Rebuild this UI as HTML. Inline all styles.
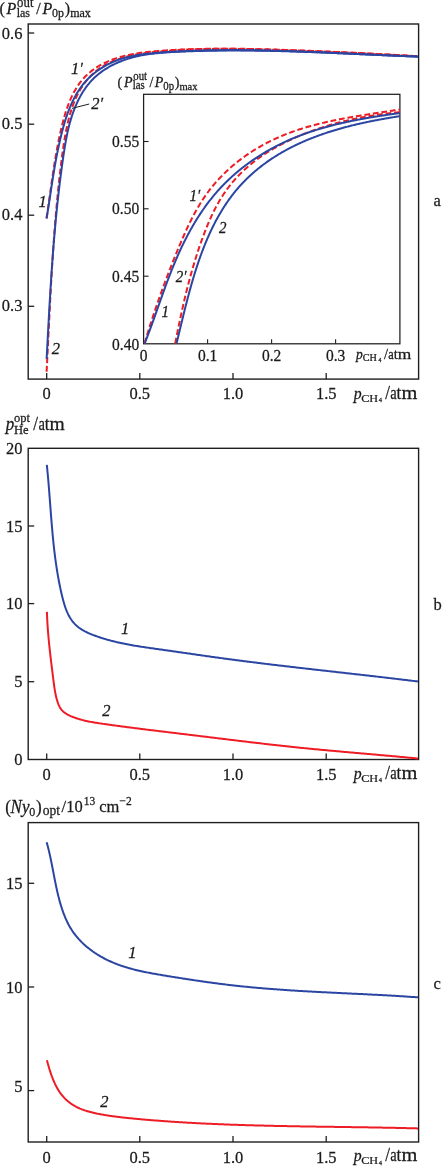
<!DOCTYPE html>
<html><head><meta charset="utf-8"><style>
html,body{margin:0;padding:0;background:#fff;width:442px;height:1166px;overflow:hidden}
body{position:relative}
</style></head><body>
<svg width="442" height="1166" viewBox="0 0 442 1166" style="position:absolute;left:0;top:0;will-change:transform">
<style>text{font-family:"Liberation Serif",serif;fill:#1a1a1a;stroke:#1a1a1a;stroke-width:0.25px}.i{font-style:italic}</style>
<rect x="28.2" y="24.0" width="390.40000000000003" height="355.1" fill="none" stroke="#1f1f1f" stroke-width="1.4"/>
<line x1="46.7" y1="379.1" x2="46.7" y2="373.1" stroke="#1f1f1f" stroke-width="1.3"/>
<text transform="translate(46.7,399.4) scale(1,1.06)" font-size="16.5" text-anchor="middle">0</text>
<line x1="139.8" y1="379.1" x2="139.8" y2="373.1" stroke="#1f1f1f" stroke-width="1.3"/>
<text transform="translate(139.8,399.4) scale(1,1.06)" font-size="16.5" text-anchor="middle">0.5</text>
<line x1="233.0" y1="379.1" x2="233.0" y2="373.1" stroke="#1f1f1f" stroke-width="1.3"/>
<text transform="translate(233.0,399.4) scale(1,1.06)" font-size="16.5" text-anchor="middle">1.0</text>
<line x1="326.2" y1="379.1" x2="326.2" y2="373.1" stroke="#1f1f1f" stroke-width="1.3"/>
<text transform="translate(326.2,399.4) scale(1,1.06)" font-size="16.5" text-anchor="middle">1.5</text>
<line x1="28.2" y1="33.0" x2="34.2" y2="33.0" stroke="#1f1f1f" stroke-width="1.3"/>
<text transform="translate(22.4,39.3) scale(1,1.06)" font-size="16.5" text-anchor="end">0.6</text>
<line x1="28.2" y1="124.2" x2="34.2" y2="124.2" stroke="#1f1f1f" stroke-width="1.3"/>
<text transform="translate(22.4,129.0) scale(1,1.06)" font-size="16.5" text-anchor="end">0.5</text>
<line x1="28.2" y1="215.2" x2="34.2" y2="215.2" stroke="#1f1f1f" stroke-width="1.3"/>
<text transform="translate(22.4,220.0) scale(1,1.06)" font-size="16.5" text-anchor="end">0.4</text>
<line x1="28.2" y1="306.3" x2="34.2" y2="306.3" stroke="#1f1f1f" stroke-width="1.3"/>
<text transform="translate(22.4,311.3) scale(1,1.06)" font-size="16.5" text-anchor="end">0.3</text>
<text transform="translate(-0.4,14.3) scale(1,1.06)" font-size="16">(</text>
<text transform="translate(6.6,14.3) scale(1,1.06)" font-size="16" class="i">P</text>
<text transform="translate(17.1,7.4) scale(1,1.06)" font-size="12.8">out</text>
<text transform="translate(16.7,17.3) scale(1,1.06)" font-size="12">las</text>
<text transform="translate(36.2,14.3) scale(1,1.06)" font-size="16">/</text>
<text transform="translate(42.4,14.3) scale(1,1.06)" font-size="16" class="i">P</text>
<text transform="translate(51.9,17.0) scale(1,1.06)" font-size="12">0p</text>
<text transform="translate(64.7,14.3) scale(1,1.06)" font-size="16">)</text>
<text transform="translate(70.2,16.9) scale(1,1.06)" font-size="12">max</text>
<text transform="translate(353.7,398.8) scale(1,1.06)" font-size="15.8" class="i">p</text>
<text transform="translate(361.20,402.00) scale(1,0.837)" font-size="12.2">CH</text>
<text transform="translate(378.7,402.3) scale(1,1.06)" font-size="6.6">4</text>
<text transform="translate(385.2,398.8) scale(1,1.06)" font-size="17">/</text>
<text transform="translate(390.30,398.80) scale(0.85,1.060)" font-size="17">a</text>
<text transform="translate(396.6,398.8) scale(1,1.06)" font-size="17">t</text>
<text transform="translate(401.40,398.80) scale(1.2,1.060)" font-size="17">m</text>
<text transform="translate(433.4,206.0) scale(1,1.06)" font-size="16.5">a</text>
<rect x="143.6" y="94.3" width="256.29999999999995" height="249.5" fill="none" stroke="#1f1f1f" stroke-width="1.25"/>
<line x1="143.6" y1="141.5" x2="148.6" y2="141.5" stroke="#1f1f1f" stroke-width="1.1"/>
<text transform="translate(139.2,146.8) scale(1,1.06)" font-size="15.5" text-anchor="end">0.55</text>
<line x1="143.6" y1="208.8" x2="148.6" y2="208.8" stroke="#1f1f1f" stroke-width="1.1"/>
<text transform="translate(139.2,214.10000000000002) scale(1,1.06)" font-size="15.5" text-anchor="end">0.50</text>
<line x1="143.6" y1="276.2" x2="148.6" y2="276.2" stroke="#1f1f1f" stroke-width="1.1"/>
<text transform="translate(139.2,281.5) scale(1,1.06)" font-size="15.5" text-anchor="end">0.45</text>
<text transform="translate(139.2,350.3) scale(1,1.06)" font-size="15.5" text-anchor="end">0.40</text>
<text transform="translate(143.6,360.6) scale(1,1.06)" font-size="15.5" text-anchor="middle">0</text>
<line x1="207.6" y1="343.8" x2="207.6" y2="339.3" stroke="#1f1f1f" stroke-width="1.1"/>
<text transform="translate(207.6,360.6) scale(1,1.06)" font-size="15.5" text-anchor="middle">0.1</text>
<line x1="271.6" y1="343.8" x2="271.6" y2="339.3" stroke="#1f1f1f" stroke-width="1.1"/>
<text transform="translate(271.6,360.6) scale(1,1.06)" font-size="15.5" text-anchor="middle">0.2</text>
<line x1="335.6" y1="343.8" x2="335.6" y2="339.3" stroke="#1f1f1f" stroke-width="1.1"/>
<text transform="translate(335.6,360.6) scale(1,1.06)" font-size="15.5" text-anchor="middle">0.3</text>
<text transform="translate(356.0,359.4) scale(1,1.06)" font-size="13.5" class="i">p</text>
<text transform="translate(362.80,361.30) scale(1,0.975)" font-size="10.2">CH</text>
<text transform="translate(378.5,362.0) scale(1,1.06)" font-size="5.6">4</text>
<text transform="translate(384.0,359.3) scale(1,1.06)" font-size="14.5">/</text>
<text transform="translate(388.35,359.30) scale(0.85,1.060)" font-size="14.5">a</text>
<text transform="translate(393.72,359.3) scale(1,1.06)" font-size="14.5">t</text>
<text transform="translate(397.82,359.30) scale(1.2,1.060)" font-size="14.5">m</text>
<text transform="translate(117.4,86.8) scale(1,1.06)" font-size="14">(</text>
<text transform="translate(124.0,86.8) scale(1,1.06)" font-size="14" class="i">P</text>
<text transform="translate(133.3,80.3) scale(1,1.06)" font-size="10.8">out</text>
<text transform="translate(132.7,89.4) scale(1,1.06)" font-size="10.8">las</text>
<text transform="translate(149.5,86.8) scale(1,1.06)" font-size="14">/</text>
<text transform="translate(154.7,86.8) scale(1,1.06)" font-size="14" class="i">P</text>
<text transform="translate(163.3,89.5) scale(1,1.06)" font-size="10.8">0p</text>
<text transform="translate(174.7,86.8) scale(1,1.06)" font-size="14">)</text>
<text transform="translate(179.4,89.7) scale(1,1.06)" font-size="10.5">max</text>
<rect x="28.2" y="448.3" width="390.40000000000003" height="311.2" fill="none" stroke="#1f1f1f" stroke-width="1.4"/>
<line x1="46.7" y1="759.5" x2="46.7" y2="753.5" stroke="#1f1f1f" stroke-width="1.3"/>
<text transform="translate(46.7,780.3) scale(1,1.06)" font-size="16.5" text-anchor="middle">0</text>
<line x1="139.8" y1="759.5" x2="139.8" y2="753.5" stroke="#1f1f1f" stroke-width="1.3"/>
<text transform="translate(139.8,780.3) scale(1,1.06)" font-size="16.5" text-anchor="middle">0.5</text>
<line x1="233.0" y1="759.5" x2="233.0" y2="753.5" stroke="#1f1f1f" stroke-width="1.3"/>
<text transform="translate(233.0,780.3) scale(1,1.06)" font-size="16.5" text-anchor="middle">1.0</text>
<line x1="326.2" y1="759.5" x2="326.2" y2="753.5" stroke="#1f1f1f" stroke-width="1.3"/>
<text transform="translate(326.2,780.3) scale(1,1.06)" font-size="16.5" text-anchor="middle">1.5</text>
<text transform="translate(22.4,453.8) scale(1,1.06)" font-size="16.5" text-anchor="end">20</text>
<line x1="28.2" y1="526.0" x2="34.2" y2="526.0" stroke="#1f1f1f" stroke-width="1.3"/>
<text transform="translate(22.4,531.5) scale(1,1.06)" font-size="16.5" text-anchor="end">15</text>
<line x1="28.2" y1="603.6" x2="34.2" y2="603.6" stroke="#1f1f1f" stroke-width="1.3"/>
<text transform="translate(22.4,609.0) scale(1,1.06)" font-size="16.5" text-anchor="end">10</text>
<line x1="28.2" y1="681.7" x2="34.2" y2="681.7" stroke="#1f1f1f" stroke-width="1.3"/>
<text transform="translate(22.4,687.0) scale(1,1.06)" font-size="16.5" text-anchor="end">5</text>
<text transform="translate(22.4,765.3) scale(1,1.06)" font-size="16.5" text-anchor="end">0</text>
<text transform="translate(353.7,778.8) scale(1,1.06)" font-size="15.8" class="i">p</text>
<text transform="translate(361.20,782.00) scale(1,0.837)" font-size="12.2">CH</text>
<text transform="translate(378.7,782.3) scale(1,1.06)" font-size="6.6">4</text>
<text transform="translate(385.2,778.8) scale(1,1.06)" font-size="17">/</text>
<text transform="translate(390.30,778.80) scale(0.85,1.060)" font-size="17">a</text>
<text transform="translate(396.6,778.8) scale(1,1.06)" font-size="17">t</text>
<text transform="translate(401.40,778.80) scale(1.2,1.060)" font-size="17">m</text>
<text transform="translate(433.4,609.5) scale(1,1.06)" font-size="16.5">b</text>
<text transform="translate(5.7,429.5) scale(1,1.06)" font-size="17" class="i">p</text>
<text transform="translate(14.0,421.6) scale(1,1.06)" font-size="12.5">opt</text>
<text transform="translate(14.0,433.6) scale(1,1.06)" font-size="12.6">He</text>
<text transform="translate(33.3,429.6) scale(1,1.06)" font-size="17">/</text>
<text transform="translate(38.40,429.60) scale(0.85,1.060)" font-size="17">a</text>
<text transform="translate(44.7,429.6) scale(1,1.06)" font-size="17">t</text>
<text transform="translate(49.50,429.60) scale(1.15,1.060)" font-size="17">m</text>
<rect x="28.2" y="822.6" width="390.40000000000003" height="319.4" fill="none" stroke="#1f1f1f" stroke-width="1.4"/>
<line x1="46.7" y1="1142.0" x2="46.7" y2="1136.0" stroke="#1f1f1f" stroke-width="1.3"/>
<text transform="translate(46.7,1162.6) scale(1,1.06)" font-size="16.5" text-anchor="middle">0</text>
<line x1="139.8" y1="1142.0" x2="139.8" y2="1136.0" stroke="#1f1f1f" stroke-width="1.3"/>
<text transform="translate(139.8,1162.6) scale(1,1.06)" font-size="16.5" text-anchor="middle">0.5</text>
<line x1="233.0" y1="1142.0" x2="233.0" y2="1136.0" stroke="#1f1f1f" stroke-width="1.3"/>
<text transform="translate(233.0,1162.6) scale(1,1.06)" font-size="16.5" text-anchor="middle">1.0</text>
<line x1="326.2" y1="1142.0" x2="326.2" y2="1136.0" stroke="#1f1f1f" stroke-width="1.3"/>
<text transform="translate(326.2,1162.6) scale(1,1.06)" font-size="16.5" text-anchor="middle">1.5</text>
<line x1="28.2" y1="883.3" x2="34.2" y2="883.3" stroke="#1f1f1f" stroke-width="1.3"/>
<text transform="translate(22.4,889.4) scale(1,1.06)" font-size="16.5" text-anchor="end">15</text>
<line x1="28.2" y1="987.0" x2="34.2" y2="987.0" stroke="#1f1f1f" stroke-width="1.3"/>
<text transform="translate(22.4,992.6) scale(1,1.06)" font-size="16.5" text-anchor="end">10</text>
<line x1="28.2" y1="1090.6" x2="34.2" y2="1090.6" stroke="#1f1f1f" stroke-width="1.3"/>
<text transform="translate(22.4,1091.6) scale(1,1.06)" font-size="16.5" text-anchor="end">5</text>
<text transform="translate(353.7,1161.2) scale(1,1.06)" font-size="15.8" class="i">p</text>
<text transform="translate(361.20,1164.40) scale(1,0.837)" font-size="12.2">CH</text>
<text transform="translate(378.7,1164.7) scale(1,1.06)" font-size="6.6">4</text>
<text transform="translate(385.2,1161.2) scale(1,1.06)" font-size="17">/</text>
<text transform="translate(390.30,1161.20) scale(0.85,1.060)" font-size="17">a</text>
<text transform="translate(396.6,1161.2) scale(1,1.06)" font-size="17">t</text>
<text transform="translate(401.40,1161.20) scale(1.2,1.060)" font-size="17">m</text>
<text transform="translate(433.4,988.8) scale(1,1.06)" font-size="16.5">c</text>
<text transform="translate(5.2,813.0) scale(1,1.06)" font-size="17">(</text>
<text transform="translate(10.6,813.0) scale(1,1.06)" font-size="17" class="i">N</text>
<text transform="translate(22.0,813.0) scale(1,1.06)" font-size="17" class="i">y</text>
<text transform="translate(29.2,815.6) scale(1,1.06)" font-size="12">0</text>
<text transform="translate(35.9,813.0) scale(1,1.06)" font-size="17">)</text>
<text transform="translate(42.7,814.6) scale(1,1.06)" font-size="13.5">opt</text>
<text transform="translate(61.6,812.2) scale(1,1.06)" font-size="16.5">/10</text>
<text transform="translate(83.8,805.2) scale(1,1.06)" font-size="11.5">13</text>
<text transform="translate(99.3,812.3) scale(1,1.06)" font-size="16.5">cm</text>
<text transform="translate(119.5,805.2) scale(1,1.06)" font-size="11.5">−2</text>
<path d="M46.81,464.78 L46.95,466.07 L47.08,467.36 L47.21,468.65 L47.33,469.94 L47.46,471.23 L47.58,472.52 L47.70,473.80 L47.82,475.09 L47.94,476.38 L48.05,477.66 L48.17,478.95 L48.28,480.24 L48.39,481.52 L48.50,482.81 L48.60,484.09 L48.71,485.38 L48.82,486.66 L48.92,487.95 L49.02,489.23 L49.12,490.51 L49.23,491.80 L49.33,493.08 L49.42,494.36 L49.52,495.65 L49.62,496.93 L49.72,498.21 L49.82,499.49 L49.91,500.78 L50.01,502.06 L50.11,503.34 L50.20,504.62 L50.30,505.90 L50.40,507.18 L50.49,508.46 L50.59,509.74 L50.69,511.02 L50.79,512.30 L50.89,513.58 L50.98,514.86 L51.08,516.14 L51.18,517.42 L51.29,518.70 L51.39,519.98 L51.49,521.26 L51.59,522.54 L51.70,523.82 L51.81,525.10 L51.91,526.37 L52.02,527.65 L52.13,528.93 L52.25,530.21 L52.36,531.48 L52.47,532.76 L52.59,534.04 L52.71,535.32 L52.83,536.59 L52.95,537.87 L53.08,539.15 L53.21,540.42 L53.34,541.70 L53.47,542.98 L53.60,544.25 L53.74,545.53 L53.88,546.80 L54.02,548.08 L54.17,549.36 L54.31,550.63 L54.46,551.91 L54.62,553.18 L54.77,554.46 L54.93,555.73 L55.10,557.01 L55.26,558.28 L55.43,559.56 L55.61,560.83 L55.78,562.11 L55.96,563.38 L56.15,564.66 L56.34,565.93 L56.53,567.21 L56.72,568.48 L56.92,569.75 L57.13,571.03 L57.34,572.30 L57.55,573.58 L57.77,574.85 L57.99,576.13 L58.21,577.40 L58.44,578.67 L58.68,579.95 L58.92,581.22 L59.16,582.50 L59.41,583.77 L59.67,585.04 L59.93,586.32 L60.19,587.59 L60.46,588.87 L60.74,590.14 L61.02,591.41 L61.30,592.69 L61.60,593.96 L61.89,595.23 L62.20,596.51 L62.51,597.78 L62.83,599.05 L63.16,600.31 L63.50,601.57 L63.86,602.82 L64.23,604.07 L64.61,605.30 L65.01,606.53 L65.43,607.74 L65.87,608.95 L66.33,610.13 L66.80,611.31 L67.31,612.47 L67.83,613.61 L68.38,614.73 L68.96,615.84 L69.57,616.92 L70.20,617.99 L70.86,619.03 L71.56,620.04 L72.29,621.04 L73.05,622.00 L73.85,622.94 L74.68,623.85 L75.55,624.73 L76.46,625.58 L77.41,626.40 L78.40,627.19 L79.41,627.95 L80.46,628.68 L81.53,629.38 L82.63,630.06 L83.76,630.70 L84.90,631.33 L86.07,631.92 L87.25,632.50 L88.44,633.05 L89.65,633.58 L90.87,634.09 L92.10,634.59 L93.34,635.07 L94.58,635.54 L95.82,635.99 L97.07,636.43 L98.31,636.86 L99.56,637.28 L100.81,637.69 L102.05,638.09 L103.30,638.48 L104.55,638.86 L105.80,639.24 L107.05,639.60 L108.30,639.95 L109.55,640.29 L110.80,640.63 L112.06,640.95 L113.31,641.27 L114.56,641.58 L115.82,641.89 L117.07,642.18 L118.33,642.47 L119.58,642.75 L120.84,643.03 L122.10,643.29 L123.35,643.55 L124.61,643.81 L125.87,644.06 L127.13,644.30 L128.39,644.54 L129.65,644.78 L130.91,645.00 L132.17,645.23 L133.43,645.45 L134.69,645.66 L135.96,645.87 L137.22,646.08 L138.48,646.28 L139.75,646.48 L141.01,646.68 L142.27,646.88 L143.54,647.07 L144.80,647.26 L146.07,647.44 L147.34,647.63 L148.60,647.81 L149.87,647.99 L151.14,648.17 L152.40,648.35 L153.67,648.53 L154.94,648.71 L156.21,648.89 L157.48,649.07 L158.75,649.24 L160.02,649.42 L161.29,649.60 L162.56,649.78 L163.83,649.96 L165.10,650.14 L166.37,650.32 L167.64,650.50 L168.91,650.68 L170.18,650.86 L171.46,651.04 L172.73,651.23 L174.00,651.41 L175.28,651.59 L176.55,651.77 L177.82,651.96 L179.10,652.14 L180.37,652.33 L181.64,652.51 L182.92,652.69 L184.19,652.88 L185.47,653.06 L186.74,653.24 L188.02,653.43 L189.29,653.61 L190.57,653.80 L191.84,653.98 L193.12,654.16 L194.39,654.35 L195.67,654.53 L196.95,654.71 L198.22,654.90 L199.50,655.08 L200.78,655.26 L202.05,655.44 L203.33,655.63 L204.61,655.81 L205.88,655.99 L207.16,656.17 L208.44,656.35 L209.71,656.53 L210.99,656.71 L212.27,656.89 L213.54,657.07 L214.82,657.24 L216.10,657.42 L217.38,657.60 L218.65,657.77 L219.93,657.95 L221.21,658.12 L222.48,658.30 L223.76,658.47 L225.04,658.64 L226.32,658.82 L227.59,658.99 L228.87,659.16 L230.15,659.33 L231.43,659.50 L232.70,659.67 L233.98,659.84 L235.26,660.00 L236.53,660.17 L237.81,660.34 L239.09,660.50 L240.37,660.67 L241.64,660.83 L242.92,661.00 L244.20,661.16 L245.47,661.33 L246.75,661.49 L248.03,661.65 L249.31,661.81 L250.58,661.97 L251.86,662.13 L253.14,662.29 L254.42,662.45 L255.69,662.61 L256.97,662.77 L258.25,662.93 L259.52,663.09 L260.80,663.24 L262.08,663.40 L263.36,663.56 L264.63,663.71 L265.91,663.87 L267.19,664.02 L268.47,664.18 L269.74,664.33 L271.02,664.49 L272.30,664.64 L273.57,664.79 L274.85,664.95 L276.13,665.10 L277.41,665.25 L278.68,665.40 L279.96,665.56 L281.24,665.71 L282.52,665.86 L283.79,666.01 L285.07,666.16 L286.35,666.31 L287.63,666.46 L288.90,666.61 L290.18,666.76 L291.46,666.90 L292.74,667.05 L294.01,667.20 L295.29,667.35 L296.57,667.50 L297.85,667.64 L299.12,667.79 L300.40,667.94 L301.68,668.09 L302.96,668.23 L304.23,668.38 L305.51,668.52 L306.79,668.67 L308.07,668.82 L309.34,668.96 L310.62,669.11 L311.90,669.25 L313.18,669.40 L314.45,669.54 L315.73,669.69 L317.01,669.83 L318.29,669.98 L319.56,670.12 L320.84,670.27 L322.12,670.41 L323.40,670.56 L324.68,670.70 L325.95,670.84 L327.23,670.99 L328.51,671.13 L329.79,671.28 L331.06,671.42 L332.34,671.56 L333.62,671.71 L334.90,671.85 L336.18,672.00 L337.45,672.14 L338.73,672.28 L340.01,672.43 L341.29,672.57 L342.57,672.71 L343.84,672.86 L345.12,673.00 L346.40,673.15 L347.68,673.29 L348.96,673.43 L350.23,673.58 L351.51,673.72 L352.79,673.87 L354.07,674.01 L355.35,674.16 L356.62,674.30 L357.90,674.45 L359.18,674.59 L360.46,674.74 L361.74,674.88 L363.02,675.03 L364.29,675.17 L365.57,675.32 L366.85,675.46 L368.13,675.61 L369.41,675.75 L370.69,675.90 L371.96,676.05 L373.24,676.19 L374.52,676.34 L375.80,676.49 L377.08,676.63 L378.36,676.78 L379.64,676.93 L380.91,677.08 L382.19,677.23 L383.47,677.37 L384.75,677.52 L386.03,677.67 L387.31,677.82 L388.59,677.97 L389.87,678.12 L391.14,678.27 L392.42,678.42 L393.70,678.57 L394.98,678.72 L396.26,678.88 L397.54,679.03 L398.82,679.18 L400.10,679.33 L401.37,679.48 L402.65,679.64 L403.93,679.79 L405.21,679.95 L406.49,680.10 L407.77,680.25 L409.05,680.41 L410.33,680.57 L411.61,680.72 L412.89,680.88 L414.17,681.03 L415.45,681.19 L416.72,681.35 L418.00,681.51" fill="none" stroke="#2b45a3" stroke-width="2"/>
<path d="M46.93,611.89 L46.96,613.05 L47.00,614.21 L47.05,615.37 L47.10,616.53 L47.15,617.69 L47.20,618.85 L47.26,620.01 L47.32,621.17 L47.39,622.32 L47.45,623.48 L47.52,624.63 L47.60,625.79 L47.68,626.94 L47.76,628.09 L47.84,629.25 L47.93,630.40 L48.02,631.55 L48.11,632.70 L48.20,633.85 L48.30,635.00 L48.40,636.15 L48.50,637.30 L48.61,638.45 L48.71,639.60 L48.82,640.74 L48.93,641.89 L49.05,643.04 L49.16,644.19 L49.28,645.33 L49.40,646.48 L49.52,647.63 L49.64,648.77 L49.77,649.92 L49.89,651.07 L50.02,652.21 L50.15,653.36 L50.28,654.50 L50.41,655.65 L50.55,656.80 L50.68,657.94 L50.82,659.09 L50.95,660.23 L51.09,661.38 L51.23,662.53 L51.37,663.67 L51.51,664.82 L51.65,665.97 L51.79,667.12 L51.93,668.26 L52.08,669.41 L52.22,670.56 L52.36,671.71 L52.51,672.86 L52.65,674.01 L52.79,675.15 L52.94,676.30 L53.08,677.46 L53.23,678.61 L53.37,679.76 L53.52,680.91 L53.66,682.06 L53.81,683.21 L53.96,684.37 L54.11,685.52 L54.27,686.67 L54.44,687.81 L54.61,688.96 L54.80,690.10 L54.99,691.25 L55.20,692.38 L55.42,693.52 L55.65,694.65 L55.90,695.78 L56.17,696.90 L56.45,698.02 L56.75,699.13 L57.08,700.24 L57.42,701.34 L57.79,702.44 L58.18,703.53 L58.60,704.60 L59.06,705.66 L59.55,706.69 L60.10,707.69 L60.71,708.65 L61.37,709.56 L62.11,710.42 L62.90,711.22 L63.76,711.98 L64.66,712.68 L65.60,713.34 L66.58,713.96 L67.59,714.55 L68.62,715.09 L69.67,715.61 L70.73,716.09 L71.81,716.55 L72.90,716.98 L74.00,717.40 L75.10,717.80 L76.20,718.18 L77.30,718.54 L78.41,718.89 L79.52,719.22 L80.63,719.54 L81.75,719.85 L82.87,720.14 L83.99,720.42 L85.11,720.69 L86.24,720.94 L87.37,721.19 L88.50,721.42 L89.63,721.65 L90.76,721.87 L91.90,722.08 L93.03,722.28 L94.17,722.47 L95.31,722.66 L96.45,722.85 L97.59,723.02 L98.73,723.20 L99.87,723.37 L101.01,723.54 L102.16,723.70 L103.30,723.87 L104.44,724.03 L105.59,724.19 L106.73,724.35 L107.87,724.52 L109.02,724.68 L110.16,724.83 L111.31,724.99 L112.45,725.15 L113.59,725.31 L114.74,725.46 L115.88,725.62 L117.03,725.78 L118.17,725.93 L119.32,726.08 L120.46,726.24 L121.61,726.39 L122.75,726.54 L123.90,726.69 L125.04,726.84 L126.19,726.99 L127.33,727.14 L128.48,727.29 L129.62,727.44 L130.77,727.59 L131.92,727.74 L133.06,727.88 L134.21,728.03 L135.35,728.18 L136.50,728.32 L137.65,728.47 L138.79,728.61 L139.94,728.76 L141.08,728.90 L142.23,729.04 L143.38,729.19 L144.52,729.33 L145.67,729.47 L146.82,729.62 L147.96,729.76 L149.11,729.90 L150.26,730.04 L151.40,730.18 L152.55,730.32 L153.70,730.46 L154.85,730.60 L155.99,730.74 L157.14,730.88 L158.29,731.02 L159.43,731.16 L160.58,731.30 L161.73,731.44 L162.88,731.58 L164.02,731.72 L165.17,731.86 L166.32,731.99 L167.47,732.13 L168.61,732.27 L169.76,732.41 L170.91,732.55 L172.06,732.69 L173.20,732.82 L174.35,732.96 L175.50,733.10 L176.65,733.24 L177.79,733.38 L178.94,733.51 L180.09,733.65 L181.24,733.79 L182.38,733.93 L183.53,734.07 L184.68,734.20 L185.83,734.34 L186.97,734.48 L188.12,734.62 L189.27,734.76 L190.42,734.90 L191.56,735.04 L192.71,735.18 L193.86,735.31 L195.00,735.45 L196.15,735.59 L197.30,735.73 L198.45,735.87 L199.59,736.01 L200.74,736.15 L201.89,736.29 L203.04,736.43 L204.18,736.57 L205.33,736.71 L206.48,736.85 L207.63,736.99 L208.77,737.13 L209.92,737.28 L211.07,737.42 L212.21,737.56 L213.36,737.70 L214.51,737.84 L215.66,737.98 L216.80,738.12 L217.95,738.26 L219.10,738.40 L220.25,738.54 L221.39,738.68 L222.54,738.82 L223.69,738.96 L224.83,739.10 L225.98,739.24 L227.13,739.38 L228.28,739.52 L229.42,739.66 L230.57,739.80 L231.72,739.94 L232.87,740.08 L234.01,740.22 L235.16,740.35 L236.31,740.49 L237.46,740.63 L238.60,740.77 L239.75,740.91 L240.90,741.05 L242.05,741.19 L243.19,741.32 L244.34,741.46 L245.49,741.60 L246.64,741.73 L247.78,741.87 L248.93,742.01 L250.08,742.14 L251.23,742.28 L252.38,742.42 L253.52,742.55 L254.67,742.69 L255.82,742.82 L256.97,742.96 L258.11,743.09 L259.26,743.22 L260.41,743.36 L261.56,743.49 L262.71,743.62 L263.86,743.76 L265.00,743.89 L266.15,744.02 L267.30,744.15 L268.45,744.28 L269.60,744.42 L270.74,744.55 L271.89,744.68 L273.04,744.81 L274.19,744.93 L275.34,745.06 L276.49,745.19 L277.64,745.32 L278.78,745.45 L279.93,745.57 L281.08,745.70 L282.23,745.83 L283.38,745.95 L284.53,746.08 L285.68,746.20 L286.83,746.33 L287.97,746.45 L289.12,746.57 L290.27,746.69 L291.42,746.82 L292.57,746.94 L293.72,747.06 L294.87,747.18 L296.02,747.30 L297.17,747.42 L298.32,747.54 L299.47,747.65 L300.62,747.77 L301.77,747.89 L302.92,748.00 L304.07,748.12 L305.22,748.23 L306.37,748.35 L307.52,748.46 L308.67,748.58 L309.82,748.69 L310.97,748.80 L312.12,748.91 L313.27,749.02 L314.42,749.14 L315.57,749.25 L316.72,749.36 L317.87,749.47 L319.02,749.57 L320.17,749.68 L321.32,749.79 L322.47,749.90 L323.62,750.01 L324.77,750.11 L325.92,750.22 L327.08,750.33 L328.23,750.43 L329.38,750.54 L330.53,750.64 L331.68,750.75 L332.83,750.85 L333.98,750.96 L335.13,751.06 L336.28,751.17 L337.43,751.27 L338.59,751.37 L339.74,751.48 L340.89,751.58 L342.04,751.68 L343.19,751.78 L344.34,751.89 L345.49,751.99 L346.64,752.09 L347.79,752.19 L348.95,752.29 L350.10,752.39 L351.25,752.50 L352.40,752.60 L353.55,752.70 L354.70,752.80 L355.85,752.90 L357.01,753.00 L358.16,753.10 L359.31,753.20 L360.46,753.30 L361.61,753.41 L362.76,753.51 L363.91,753.61 L365.06,753.71 L366.22,753.81 L367.37,753.91 L368.52,754.01 L369.67,754.11 L370.82,754.21 L371.97,754.31 L373.12,754.41 L374.28,754.52 L375.43,754.62 L376.58,754.72 L377.73,754.82 L378.88,754.92 L380.03,755.02 L381.18,755.13 L382.33,755.23 L383.49,755.33 L384.64,755.43 L385.79,755.54 L386.94,755.64 L388.09,755.74 L389.24,755.85 L390.39,755.95 L391.54,756.05 L392.69,756.16 L393.84,756.26 L395.00,756.37 L396.15,756.47 L397.30,756.58 L398.45,756.68 L399.60,756.79 L400.75,756.90 L401.90,757.00 L403.05,757.11 L404.20,757.22 L405.35,757.33 L406.50,757.43 L407.65,757.54 L408.80,757.65 L409.95,757.76 L411.10,757.87 L412.25,757.98 L413.40,758.09 L414.55,758.21 L415.70,758.32 L416.85,758.43 L418.00,758.54" fill="none" stroke="#ee1c24" stroke-width="2"/>
<path d="M46.67,842.29 L46.98,843.36 L47.28,844.44 L47.57,845.53 L47.85,846.61 L48.13,847.70 L48.40,848.79 L48.67,849.88 L48.93,850.97 L49.19,852.07 L49.45,853.17 L49.69,854.27 L49.94,855.37 L50.18,856.47 L50.42,857.58 L50.65,858.68 L50.88,859.79 L51.11,860.90 L51.34,862.01 L51.56,863.12 L51.78,864.23 L52.00,865.35 L52.22,866.46 L52.44,867.58 L52.65,868.69 L52.87,869.81 L53.08,870.93 L53.30,872.05 L53.51,873.17 L53.73,874.28 L53.94,875.40 L54.16,876.52 L54.37,877.64 L54.59,878.76 L54.81,879.88 L55.04,881.00 L55.26,882.12 L55.49,883.24 L55.72,884.36 L55.95,885.48 L56.18,886.60 L56.42,887.71 L56.67,888.83 L56.91,889.95 L57.16,891.06 L57.42,892.18 L57.68,893.29 L57.94,894.40 L58.21,895.52 L58.49,896.63 L58.77,897.73 L59.06,898.84 L59.35,899.95 L59.65,901.05 L59.96,902.16 L60.27,903.26 L60.60,904.36 L60.93,905.45 L61.26,906.55 L61.61,907.64 L61.96,908.73 L62.32,909.82 L62.70,910.90 L63.08,911.98 L63.47,913.05 L63.87,914.12 L64.28,915.18 L64.70,916.24 L65.14,917.29 L65.58,918.34 L66.04,919.38 L66.51,920.41 L66.99,921.44 L67.48,922.45 L67.99,923.46 L68.51,924.46 L69.04,925.46 L69.59,926.44 L70.15,927.41 L70.73,928.38 L71.32,929.33 L71.93,930.27 L72.55,931.21 L73.18,932.13 L73.84,933.04 L74.50,933.94 L75.18,934.83 L75.87,935.71 L76.58,936.58 L77.30,937.43 L78.04,938.28 L78.78,939.12 L79.54,939.94 L80.31,940.76 L81.10,941.56 L81.89,942.36 L82.70,943.14 L83.52,943.91 L84.35,944.68 L85.19,945.43 L86.04,946.17 L86.90,946.90 L87.77,947.62 L88.66,948.33 L89.55,949.03 L90.45,949.72 L91.36,950.39 L92.28,951.06 L93.20,951.72 L94.14,952.36 L95.08,953.00 L96.04,953.62 L96.99,954.24 L97.96,954.84 L98.94,955.44 L99.92,956.02 L100.90,956.59 L101.90,957.15 L102.90,957.70 L103.90,958.25 L104.91,958.78 L105.93,959.30 L106.95,959.81 L107.98,960.30 L109.01,960.79 L110.04,961.27 L111.08,961.74 L112.12,962.20 L113.17,962.64 L114.22,963.08 L115.27,963.51 L116.33,963.92 L117.39,964.33 L118.45,964.72 L119.51,965.11 L120.58,965.49 L121.65,965.86 L122.73,966.22 L123.80,966.57 L124.88,966.92 L125.96,967.25 L127.05,967.58 L128.13,967.90 L129.22,968.22 L130.31,968.52 L131.41,968.82 L132.50,969.11 L133.60,969.40 L134.70,969.68 L135.80,969.95 L136.90,970.22 L138.00,970.48 L139.11,970.73 L140.22,970.98 L141.33,971.23 L142.44,971.47 L143.55,971.71 L144.66,971.94 L145.78,972.16 L146.89,972.39 L148.01,972.61 L149.13,972.82 L150.24,973.03 L151.36,973.24 L152.48,973.45 L153.60,973.65 L154.72,973.85 L155.85,974.05 L156.97,974.25 L158.09,974.44 L159.21,974.63 L160.34,974.83 L161.46,975.02 L162.58,975.20 L163.71,975.39 L164.83,975.58 L165.95,975.77 L167.08,975.95 L168.20,976.14 L169.32,976.32 L170.44,976.51 L171.57,976.69 L172.69,976.87 L173.81,977.05 L174.94,977.23 L176.06,977.42 L177.18,977.60 L178.30,977.77 L179.43,977.95 L180.55,978.13 L181.67,978.31 L182.79,978.48 L183.92,978.66 L185.04,978.83 L186.16,979.01 L187.28,979.18 L188.41,979.35 L189.53,979.52 L190.65,979.69 L191.77,979.86 L192.90,980.03 L194.02,980.20 L195.14,980.37 L196.26,980.53 L197.39,980.70 L198.51,980.86 L199.63,981.02 L200.76,981.18 L201.88,981.35 L203.00,981.51 L204.13,981.66 L205.25,981.82 L206.37,981.98 L207.49,982.14 L208.62,982.29 L209.74,982.44 L210.86,982.60 L211.99,982.75 L213.11,982.90 L214.24,983.05 L215.36,983.20 L216.48,983.34 L217.61,983.49 L218.73,983.64 L219.86,983.78 L220.98,983.92 L222.11,984.06 L223.23,984.20 L224.35,984.34 L225.48,984.48 L226.60,984.62 L227.73,984.75 L228.86,984.89 L229.98,985.02 L231.11,985.15 L232.23,985.28 L233.36,985.41 L234.48,985.54 L235.61,985.66 L236.74,985.79 L237.86,985.91 L238.99,986.03 L240.12,986.16 L241.24,986.27 L242.37,986.39 L243.50,986.51 L244.63,986.63 L245.76,986.74 L246.88,986.85 L248.01,986.96 L249.14,987.07 L250.27,987.18 L251.40,987.29 L252.53,987.40 L253.66,987.50 L254.79,987.61 L255.91,987.71 L257.04,987.81 L258.17,987.91 L259.30,988.01 L260.43,988.11 L261.56,988.21 L262.69,988.30 L263.83,988.40 L264.96,988.49 L266.09,988.58 L267.22,988.68 L268.35,988.77 L269.48,988.86 L270.61,988.94 L271.74,989.03 L272.87,989.12 L274.01,989.20 L275.14,989.29 L276.27,989.37 L277.40,989.46 L278.53,989.54 L279.67,989.62 L280.80,989.70 L281.93,989.78 L283.06,989.86 L284.20,989.94 L285.33,990.01 L286.46,990.09 L287.60,990.16 L288.73,990.24 L289.86,990.31 L290.99,990.39 L292.13,990.46 L293.26,990.53 L294.40,990.60 L295.53,990.67 L296.66,990.74 L297.80,990.81 L298.93,990.88 L300.06,990.94 L301.20,991.01 L302.33,991.08 L303.47,991.14 L304.60,991.21 L305.74,991.27 L306.87,991.34 L308.00,991.40 L309.14,991.46 L310.27,991.53 L311.41,991.59 L312.54,991.65 L313.68,991.71 L314.81,991.77 L315.95,991.83 L317.08,991.89 L318.22,991.95 L319.35,992.01 L320.49,992.07 L321.62,992.13 L322.76,992.19 L323.89,992.25 L325.03,992.30 L326.16,992.36 L327.30,992.42 L328.43,992.47 L329.57,992.53 L330.70,992.59 L331.84,992.64 L332.97,992.70 L334.11,992.75 L335.24,992.81 L336.38,992.87 L337.51,992.92 L338.65,992.98 L339.78,993.03 L340.92,993.08 L342.05,993.14 L343.19,993.19 L344.32,993.25 L345.46,993.30 L346.59,993.36 L347.73,993.41 L348.86,993.47 L350.00,993.52 L351.13,993.58 L352.27,993.63 L353.41,993.68 L354.54,993.74 L355.67,993.79 L356.81,993.85 L357.94,993.90 L359.08,993.96 L360.21,994.01 L361.35,994.07 L362.48,994.12 L363.62,994.18 L364.75,994.24 L365.89,994.29 L367.02,994.35 L368.16,994.41 L369.29,994.46 L370.43,994.52 L371.56,994.58 L372.69,994.63 L373.83,994.69 L374.96,994.75 L376.10,994.81 L377.23,994.87 L378.36,994.93 L379.50,994.99 L380.63,995.05 L381.76,995.11 L382.90,995.17 L384.03,995.23 L385.16,995.29 L386.30,995.36 L387.43,995.42 L388.56,995.48 L389.70,995.55 L390.83,995.61 L391.96,995.68 L393.09,995.74 L394.23,995.81 L395.36,995.87 L396.49,995.94 L397.62,996.01 L398.76,996.08 L399.89,996.15 L401.02,996.22 L402.15,996.29 L403.28,996.36 L404.41,996.43 L405.55,996.50 L406.68,996.58 L407.81,996.65 L408.94,996.73 L410.07,996.80 L411.20,996.88 L412.33,996.96 L413.46,997.03 L414.59,997.11 L415.72,997.19 L416.85,997.27 L417.98,997.36" fill="none" stroke="#2b45a3" stroke-width="2"/>
<path d="M46.90,1060.16 L47.15,1061.09 L47.40,1062.02 L47.66,1062.96 L47.92,1063.91 L48.18,1064.86 L48.46,1065.82 L48.73,1066.78 L49.02,1067.75 L49.31,1068.72 L49.61,1069.69 L49.91,1070.66 L50.23,1071.63 L50.55,1072.60 L50.87,1073.57 L51.21,1074.54 L51.55,1075.51 L51.91,1076.48 L52.27,1077.45 L52.65,1078.41 L53.03,1079.36 L53.42,1080.32 L53.82,1081.26 L54.24,1082.21 L54.66,1083.14 L55.10,1084.07 L55.55,1084.99 L56.01,1085.90 L56.48,1086.80 L56.97,1087.69 L57.47,1088.58 L57.98,1089.45 L58.50,1090.31 L59.04,1091.16 L59.59,1091.99 L60.16,1092.82 L60.74,1093.62 L61.34,1094.42 L61.95,1095.20 L62.58,1095.96 L63.23,1096.71 L63.89,1097.44 L64.56,1098.15 L65.25,1098.84 L65.96,1099.52 L66.68,1100.19 L67.42,1100.83 L68.17,1101.46 L68.94,1102.07 L69.71,1102.67 L70.50,1103.25 L71.31,1103.81 L72.12,1104.36 L72.95,1104.89 L73.79,1105.40 L74.64,1105.90 L75.50,1106.38 L76.37,1106.85 L77.26,1107.30 L78.15,1107.73 L79.05,1108.15 L79.96,1108.56 L80.88,1108.94 L81.80,1109.32 L82.74,1109.68 L83.68,1110.02 L84.62,1110.35 L85.58,1110.67 L86.54,1110.97 L87.51,1111.27 L88.48,1111.55 L89.45,1111.82 L90.43,1112.08 L91.42,1112.33 L92.41,1112.57 L93.40,1112.81 L94.39,1113.03 L95.38,1113.25 L96.38,1113.46 L97.38,1113.66 L98.38,1113.86 L99.38,1114.05 L100.38,1114.24 L101.38,1114.43 L102.38,1114.60 L103.37,1114.78 L104.37,1114.95 L105.37,1115.12 L106.37,1115.28 L107.37,1115.44 L108.37,1115.59 L109.36,1115.74 L110.36,1115.89 L111.36,1116.03 L112.36,1116.18 L113.36,1116.31 L114.35,1116.45 L115.35,1116.58 L116.35,1116.71 L117.34,1116.83 L118.34,1116.96 L119.34,1117.08 L120.33,1117.20 L121.33,1117.31 L122.33,1117.42 L123.32,1117.54 L124.32,1117.65 L125.32,1117.75 L126.31,1117.86 L127.31,1117.96 L128.31,1118.06 L129.30,1118.16 L130.30,1118.26 L131.30,1118.36 L132.30,1118.46 L133.29,1118.55 L134.29,1118.65 L135.29,1118.74 L136.28,1118.84 L137.28,1118.93 L138.28,1119.02 L139.28,1119.11 L140.27,1119.20 L141.27,1119.29 L142.27,1119.38 L143.27,1119.47 L144.26,1119.55 L145.26,1119.64 L146.26,1119.72 L147.26,1119.81 L148.26,1119.89 L149.25,1119.98 L150.25,1120.06 L151.25,1120.14 L152.25,1120.22 L153.25,1120.30 L154.25,1120.38 L155.25,1120.46 L156.24,1120.54 L157.24,1120.62 L158.24,1120.69 L159.24,1120.77 L160.24,1120.84 L161.24,1120.92 L162.24,1120.99 L163.24,1121.07 L164.24,1121.14 L165.24,1121.21 L166.24,1121.28 L167.24,1121.35 L168.24,1121.42 L169.24,1121.49 L170.24,1121.56 L171.24,1121.63 L172.24,1121.70 L173.24,1121.76 L174.24,1121.83 L175.24,1121.89 L176.24,1121.96 L177.24,1122.02 L178.24,1122.09 L179.24,1122.15 L180.24,1122.21 L181.24,1122.27 L182.24,1122.33 L183.24,1122.39 L184.24,1122.45 L185.24,1122.51 L186.24,1122.57 L187.24,1122.63 L188.24,1122.69 L189.24,1122.75 L190.25,1122.80 L191.25,1122.86 L192.25,1122.91 L193.25,1122.97 L194.25,1123.02 L195.25,1123.07 L196.25,1123.13 L197.26,1123.18 L198.26,1123.23 L199.26,1123.28 L200.26,1123.33 L201.26,1123.38 L202.26,1123.43 L203.27,1123.48 L204.27,1123.53 L205.27,1123.58 L206.27,1123.63 L207.27,1123.68 L208.27,1123.72 L209.28,1123.77 L210.28,1123.81 L211.28,1123.86 L212.28,1123.90 L213.29,1123.95 L214.29,1123.99 L215.29,1124.03 L216.29,1124.08 L217.30,1124.12 L218.30,1124.16 L219.30,1124.20 L220.30,1124.24 L221.31,1124.28 L222.31,1124.32 L223.31,1124.36 L224.31,1124.40 L225.32,1124.44 L226.32,1124.48 L227.32,1124.52 L228.33,1124.56 L229.33,1124.59 L230.33,1124.63 L231.33,1124.66 L232.34,1124.70 L233.34,1124.74 L234.34,1124.77 L235.35,1124.81 L236.35,1124.84 L237.35,1124.87 L238.36,1124.91 L239.36,1124.94 L240.36,1124.97 L241.37,1125.00 L242.37,1125.04 L243.37,1125.07 L244.38,1125.10 L245.38,1125.13 L246.38,1125.16 L247.39,1125.19 L248.39,1125.22 L249.39,1125.25 L250.40,1125.28 L251.40,1125.31 L252.41,1125.33 L253.41,1125.36 L254.41,1125.39 L255.42,1125.42 L256.42,1125.44 L257.42,1125.47 L258.43,1125.50 L259.43,1125.52 L260.44,1125.55 L261.44,1125.57 L262.44,1125.60 L263.45,1125.62 L264.45,1125.65 L265.46,1125.67 L266.46,1125.70 L267.46,1125.72 L268.47,1125.74 L269.47,1125.77 L270.48,1125.79 L271.48,1125.81 L272.48,1125.84 L273.49,1125.86 L274.49,1125.88 L275.50,1125.90 L276.50,1125.92 L277.51,1125.94 L278.51,1125.97 L279.51,1125.99 L280.52,1126.01 L281.52,1126.03 L282.53,1126.05 L283.53,1126.07 L284.54,1126.09 L285.54,1126.11 L286.54,1126.12 L287.55,1126.14 L288.55,1126.16 L289.56,1126.18 L290.56,1126.20 L291.57,1126.22 L292.57,1126.24 L293.57,1126.25 L294.58,1126.27 L295.58,1126.29 L296.59,1126.31 L297.59,1126.32 L298.60,1126.34 L299.60,1126.36 L300.60,1126.38 L301.61,1126.39 L302.61,1126.41 L303.62,1126.43 L304.62,1126.44 L305.63,1126.46 L306.63,1126.47 L307.63,1126.49 L308.64,1126.51 L309.64,1126.52 L310.65,1126.54 L311.65,1126.55 L312.66,1126.57 L313.66,1126.58 L314.66,1126.60 L315.67,1126.61 L316.67,1126.63 L317.68,1126.64 L318.68,1126.66 L319.69,1126.67 L320.69,1126.69 L321.69,1126.70 L322.70,1126.72 L323.70,1126.73 L324.71,1126.75 L325.71,1126.76 L326.72,1126.77 L327.72,1126.79 L328.72,1126.80 L329.73,1126.82 L330.73,1126.83 L331.74,1126.85 L332.74,1126.86 L333.74,1126.87 L334.75,1126.89 L335.75,1126.90 L336.76,1126.92 L337.76,1126.93 L338.77,1126.95 L339.77,1126.96 L340.77,1126.97 L341.78,1126.99 L342.78,1127.00 L343.78,1127.02 L344.79,1127.03 L345.79,1127.04 L346.80,1127.06 L347.80,1127.07 L348.80,1127.09 L349.81,1127.10 L350.81,1127.12 L351.82,1127.13 L352.82,1127.15 L353.82,1127.16 L354.83,1127.18 L355.83,1127.19 L356.83,1127.21 L357.84,1127.22 L358.84,1127.23 L359.84,1127.25 L360.85,1127.27 L361.85,1127.28 L362.85,1127.30 L363.86,1127.31 L364.86,1127.33 L365.86,1127.34 L366.87,1127.36 L367.87,1127.37 L368.87,1127.39 L369.88,1127.41 L370.88,1127.42 L371.88,1127.44 L372.89,1127.46 L373.89,1127.47 L374.89,1127.49 L375.90,1127.51 L376.90,1127.52 L377.90,1127.54 L378.90,1127.56 L379.91,1127.58 L380.91,1127.59 L381.91,1127.61 L382.92,1127.63 L383.92,1127.65 L384.92,1127.67 L385.92,1127.68 L386.93,1127.70 L387.93,1127.72 L388.93,1127.74 L389.93,1127.76 L390.94,1127.78 L391.94,1127.80 L392.94,1127.82 L393.94,1127.84 L394.94,1127.86 L395.95,1127.88 L396.95,1127.90 L397.95,1127.92 L398.95,1127.95 L399.95,1127.97 L400.96,1127.99 L401.96,1128.01 L402.96,1128.03 L403.96,1128.06 L404.96,1128.08 L405.96,1128.10 L406.97,1128.13 L407.97,1128.15 L408.97,1128.17 L409.97,1128.20 L410.97,1128.22 L411.97,1128.25 L412.97,1128.27 L413.98,1128.30 L414.98,1128.32 L415.98,1128.35 L416.98,1128.38 L417.98,1128.40" fill="none" stroke="#ee1c24" stroke-width="2"/>
<path d="M175.23,343.38 L175.40,342.50 L175.57,341.62 L175.75,340.73 L175.92,339.85 L176.09,338.96 L176.27,338.08 L176.44,337.20 L176.62,336.31 L176.79,335.43 L176.97,334.55 L177.14,333.67 L177.32,332.78 L177.50,331.90 L177.67,331.02 L177.85,330.14 L178.03,329.26 L178.21,328.38 L178.39,327.50 L178.57,326.62 L178.75,325.73 L178.94,324.85 L179.12,323.97 L179.30,323.10 L179.48,322.22 L179.67,321.34 L179.85,320.46 L180.04,319.58 L180.23,318.70 L180.41,317.82 L180.60,316.94 L180.79,316.07 L180.98,315.19 L181.17,314.31 L181.36,313.43 L181.55,312.56 L181.75,311.68 L181.94,310.80 L182.13,309.93 L182.33,309.05 L182.52,308.18 L182.72,307.30 L182.92,306.43 L183.12,305.55 L183.32,304.68 L183.52,303.80 L183.72,302.93 L183.92,302.06 L184.12,301.18 L184.33,300.31 L184.53,299.44 L184.74,298.56 L184.95,297.69 L185.15,296.82 L185.36,295.95 L185.57,295.08 L185.79,294.21 L186.00,293.33 L186.21,292.46 L186.43,291.59 L186.64,290.72 L186.86,289.85 L187.08,288.98 L187.30,288.12 L187.52,287.25 L187.74,286.38 L187.96,285.51 L188.19,284.64 L188.41,283.77 L188.64,282.91 L188.86,282.04 L189.09,281.17 L189.32,280.31 L189.56,279.44 L189.79,278.57 L190.02,277.71 L190.26,276.84 L190.49,275.98 L190.73,275.11 L190.97,274.25 L191.21,273.39 L191.46,272.52 L191.70,271.66 L191.94,270.80 L192.19,269.93 L192.44,269.07 L192.69,268.21 L192.94,267.35 L193.19,266.49 L193.44,265.62 L193.70,264.76 L193.96,263.90 L194.22,263.04 L194.48,262.18 L194.74,261.32 L195.00,260.47 L195.26,259.61 L195.53,258.75 L195.80,257.89 L196.07,257.03 L196.34,256.18 L196.61,255.32 L196.89,254.46 L197.16,253.61 L197.44,252.75 L197.72,251.89 L198.00,251.04 L198.28,250.18 L198.57,249.33 L198.86,248.48 L199.14,247.62 L199.43,246.77 L199.72,245.92 L200.02,245.06 L200.31,244.21 L200.61,243.36 L200.91,242.51 L201.21,241.66 L201.51,240.81 L201.82,239.95 L202.13,239.10 L202.43,238.26 L202.74,237.41 L203.06,236.56 L203.37,235.71 L203.69,234.86 L204.01,234.02 L204.33,233.17 L204.65,232.32 L204.98,231.48 L205.31,230.64 L205.64,229.79 L205.97,228.95 L206.31,228.11 L206.64,227.27 L206.99,226.44 L207.33,225.60 L207.68,224.76 L208.02,223.93 L208.38,223.10 L208.73,222.27 L209.09,221.44 L209.45,220.61 L209.81,219.78 L210.18,218.96 L210.55,218.14 L210.93,217.31 L211.30,216.49 L211.68,215.68 L212.07,214.86 L212.45,214.05 L212.84,213.24 L213.24,212.43 L213.64,211.62 L214.04,210.82 L214.44,210.01 L214.85,209.21 L215.26,208.41 L215.68,207.62 L216.10,206.83 L216.52,206.04 L216.95,205.25 L217.38,204.46 L217.82,203.68 L218.26,202.90 L218.70,202.12 L219.15,201.35 L219.60,200.58 L220.06,199.81 L220.52,199.05 L220.99,198.28 L221.46,197.53 L221.93,196.77 L222.41,196.02 L222.90,195.27 L223.39,194.52 L223.88,193.78 L224.38,193.04 L224.88,192.31 L225.39,191.58 L225.90,190.85 L226.42,190.12 L226.94,189.40 L227.47,188.69 L228.00,187.97 L228.54,187.26 L229.08,186.56 L229.63,185.85 L230.18,185.16 L230.74,184.46 L231.30,183.77 L231.86,183.08 L232.43,182.40 L233.01,181.72 L233.58,181.04 L234.17,180.37 L234.75,179.70 L235.35,179.04 L235.94,178.37 L236.54,177.72 L237.15,177.06 L237.76,176.41 L238.37,175.77 L238.99,175.13 L239.61,174.49 L240.24,173.85 L240.87,173.22 L241.50,172.60 L242.14,171.97 L242.78,171.35 L243.43,170.74 L244.08,170.13 L244.73,169.52 L245.39,168.92 L246.05,168.32 L246.72,167.72 L247.39,167.13 L248.06,166.54 L248.74,165.96 L249.42,165.38 L250.10,164.80 L250.79,164.23 L251.48,163.66 L252.18,163.10 L252.88,162.54 L253.58,161.98 L254.29,161.43 L255.00,160.88 L255.71,160.34 L256.43,159.80 L257.15,159.27 L257.87,158.73 L258.60,158.21 L259.33,157.68 L260.07,157.16 L260.80,156.65 L261.54,156.14 L262.29,155.63 L263.03,155.13 L263.78,154.63 L264.53,154.14 L265.29,153.64 L266.05,153.16 L266.81,152.67 L267.57,152.19 L268.34,151.72 L269.11,151.25 L269.88,150.78 L270.66,150.31 L271.43,149.85 L272.21,149.39 L272.99,148.94 L273.77,148.49 L274.56,148.04 L275.35,147.60 L276.14,147.16 L276.93,146.72 L277.72,146.29 L278.52,145.86 L279.31,145.43 L280.11,145.00 L280.91,144.58 L281.72,144.17 L282.52,143.75 L283.32,143.34 L284.13,142.93 L284.94,142.52 L285.75,142.12 L286.56,141.72 L287.37,141.33 L288.19,140.93 L289.00,140.54 L289.82,140.16 L290.64,139.77 L291.46,139.39 L292.28,139.02 L293.10,138.64 L293.92,138.27 L294.74,137.90 L295.57,137.53 L296.39,137.17 L297.22,136.81 L298.05,136.45 L298.88,136.10 L299.71,135.75 L300.54,135.40 L301.37,135.06 L302.20,134.71 L303.04,134.38 L303.87,134.04 L304.71,133.71 L305.54,133.37 L306.38,133.05 L307.22,132.72 L308.06,132.40 L308.90,132.08 L309.74,131.76 L310.58,131.45 L311.42,131.14 L312.26,130.83 L313.10,130.53 L313.95,130.22 L314.79,129.92 L315.64,129.63 L316.49,129.33 L317.33,129.04 L318.18,128.75 L319.03,128.46 L319.88,128.18 L320.73,127.90 L321.58,127.62 L322.44,127.34 L323.29,127.07 L324.14,126.80 L325.00,126.53 L325.85,126.27 L326.71,126.00 L327.56,125.74 L328.42,125.49 L329.28,125.23 L330.14,124.98 L331.00,124.73 L331.86,124.48 L332.72,124.24 L333.58,123.99 L334.44,123.75 L335.31,123.52 L336.17,123.28 L337.03,123.05 L337.90,122.82 L338.77,122.59 L339.63,122.37 L340.50,122.14 L341.37,121.92 L342.23,121.70 L343.10,121.49 L343.97,121.27 L344.84,121.06 L345.71,120.85 L346.59,120.65 L347.46,120.44 L348.33,120.24 L349.21,120.04 L350.08,119.85 L350.95,119.65 L351.83,119.46 L352.70,119.27 L353.58,119.08 L354.46,118.89 L355.34,118.71 L356.21,118.53 L357.09,118.35 L357.97,118.17 L358.85,118.00 L359.73,117.83 L360.61,117.65 L361.50,117.49 L362.38,117.32 L363.26,117.16 L364.14,116.99 L365.03,116.83 L365.91,116.68 L366.80,116.52 L367.68,116.37 L368.57,116.21 L369.45,116.06 L370.34,115.92 L371.23,115.77 L372.12,115.63 L373.00,115.49 L373.89,115.35 L374.78,115.21 L375.67,115.07 L376.56,114.94 L377.45,114.81 L378.34,114.68 L379.23,114.55 L380.13,114.42 L381.02,114.30 L381.91,114.18 L382.81,114.06 L383.70,113.94 L384.59,113.82 L385.49,113.71 L386.38,113.60 L387.28,113.48 L388.17,113.38 L389.07,113.27 L389.97,113.16 L390.86,113.06 L391.76,112.96 L392.66,112.86 L393.56,112.76 L394.46,112.66 L395.36,112.56 L396.25,112.47 L397.15,112.38 L398.05,112.29 L398.95,112.20 L399.86,112.11" fill="none" stroke="#ee1c24" stroke-width="2" stroke-dasharray="5.8,2.8"/>
<path d="M144.52,343.43 L144.80,342.51 L145.07,341.59 L145.35,340.67 L145.63,339.75 L145.90,338.83 L146.18,337.91 L146.46,337.00 L146.74,336.08 L147.02,335.17 L147.30,334.25 L147.59,333.34 L147.87,332.43 L148.15,331.51 L148.44,330.60 L148.72,329.69 L149.01,328.78 L149.29,327.87 L149.58,326.96 L149.87,326.05 L150.16,325.14 L150.45,324.24 L150.74,323.33 L151.03,322.42 L151.32,321.52 L151.62,320.61 L151.91,319.71 L152.21,318.80 L152.50,317.90 L152.80,317.00 L153.09,316.09 L153.39,315.19 L153.69,314.29 L153.99,313.39 L154.29,312.49 L154.59,311.59 L154.90,310.69 L155.20,309.79 L155.50,308.89 L155.81,307.99 L156.11,307.09 L156.42,306.20 L156.73,305.30 L157.03,304.40 L157.34,303.51 L157.65,302.61 L157.96,301.72 L158.28,300.82 L158.59,299.93 L158.90,299.03 L159.22,298.14 L159.53,297.25 L159.85,296.35 L160.16,295.46 L160.48,294.57 L160.80,293.68 L161.12,292.79 L161.44,291.90 L161.76,291.00 L162.08,290.11 L162.41,289.22 L162.73,288.33 L163.05,287.44 L163.38,286.56 L163.71,285.67 L164.03,284.78 L164.36,283.89 L164.69,283.00 L165.02,282.11 L165.35,281.22 L165.69,280.34 L166.02,279.45 L166.35,278.56 L166.69,277.68 L167.02,276.79 L167.36,275.90 L167.70,275.02 L168.04,274.13 L168.38,273.24 L168.72,272.36 L169.06,271.47 L169.40,270.59 L169.75,269.70 L170.09,268.82 L170.44,267.93 L170.78,267.05 L171.13,266.16 L171.48,265.28 L171.83,264.39 L172.18,263.51 L172.53,262.62 L172.88,261.74 L173.23,260.85 L173.59,259.97 L173.94,259.08 L174.30,258.20 L174.66,257.32 L175.02,256.43 L175.37,255.55 L175.74,254.66 L176.10,253.78 L176.46,252.89 L176.82,252.01 L177.19,251.13 L177.55,250.24 L177.92,249.36 L178.29,248.47 L178.65,247.59 L179.02,246.70 L179.39,245.82 L179.77,244.94 L180.14,244.05 L180.51,243.17 L180.89,242.29 L181.27,241.40 L181.65,240.52 L182.03,239.64 L182.41,238.76 L182.79,237.88 L183.18,236.99 L183.56,236.12 L183.95,235.24 L184.34,234.36 L184.74,233.48 L185.13,232.60 L185.53,231.73 L185.93,230.86 L186.33,229.98 L186.73,229.11 L187.14,228.24 L187.54,227.37 L187.95,226.50 L188.37,225.63 L188.78,224.77 L189.20,223.91 L189.62,223.04 L190.04,222.18 L190.47,221.32 L190.90,220.47 L191.33,219.61 L191.76,218.76 L192.20,217.90 L192.64,217.05 L193.08,216.21 L193.53,215.36 L193.98,214.52 L194.43,213.68 L194.89,212.84 L195.35,212.00 L195.81,211.16 L196.27,210.33 L196.74,209.50 L197.22,208.68 L197.69,207.85 L198.17,207.03 L198.66,206.21 L199.15,205.39 L199.64,204.58 L200.13,203.77 L200.63,202.96 L201.14,202.15 L201.64,201.35 L202.16,200.55 L202.67,199.76 L203.19,198.97 L203.72,198.18 L204.25,197.39 L204.78,196.61 L205.32,195.83 L205.86,195.05 L206.41,194.28 L206.96,193.51 L207.51,192.75 L208.07,191.99 L208.64,191.23 L209.21,190.47 L209.78,189.72 L210.36,188.98 L210.95,188.23 L211.54,187.50 L212.13,186.76 L212.73,186.03 L213.33,185.30 L213.94,184.58 L214.55,183.86 L215.16,183.14 L215.78,182.43 L216.41,181.72 L217.03,181.02 L217.67,180.31 L218.30,179.62 L218.95,178.92 L219.59,178.23 L220.24,177.55 L220.89,176.87 L221.55,176.19 L222.21,175.51 L222.88,174.84 L223.55,174.18 L224.22,173.51 L224.90,172.85 L225.58,172.20 L226.27,171.55 L226.95,170.90 L227.65,170.26 L228.34,169.62 L229.04,168.98 L229.75,168.35 L230.46,167.72 L231.17,167.10 L231.88,166.48 L232.60,165.86 L233.32,165.25 L234.05,164.64 L234.78,164.04 L235.51,163.43 L236.25,162.84 L236.98,162.25 L237.73,161.66 L238.47,161.07 L239.22,160.49 L239.98,159.91 L240.73,159.34 L241.49,158.77 L242.25,158.21 L243.02,157.65 L243.79,157.09 L244.56,156.53 L245.33,155.99 L246.11,155.44 L246.89,154.90 L247.67,154.36 L248.46,153.83 L249.25,153.30 L250.04,152.77 L250.84,152.25 L251.63,151.74 L252.43,151.22 L253.24,150.71 L254.04,150.21 L254.85,149.71 L255.66,149.21 L256.48,148.72 L257.29,148.23 L258.11,147.74 L258.94,147.26 L259.76,146.79 L260.59,146.31 L261.42,145.85 L262.25,145.38 L263.08,144.92 L263.92,144.46 L264.75,144.01 L265.60,143.56 L266.44,143.12 L267.28,142.68 L268.13,142.24 L268.98,141.81 L269.83,141.39 L270.69,140.96 L271.54,140.54 L272.40,140.13 L273.26,139.72 L274.12,139.31 L274.98,138.91 L275.85,138.51 L276.72,138.11 L277.59,137.72 L278.46,137.34 L279.33,136.96 L280.20,136.58 L281.08,136.21 L281.96,135.84 L282.84,135.47 L283.72,135.11 L284.60,134.75 L285.49,134.40 L286.37,134.05 L287.26,133.71 L288.15,133.36 L289.04,133.03 L289.93,132.69 L290.83,132.36 L291.72,132.04 L292.62,131.71 L293.52,131.39 L294.42,131.08 L295.32,130.77 L296.22,130.46 L297.12,130.15 L298.03,129.85 L298.93,129.55 L299.84,129.26 L300.75,128.97 L301.66,128.68 L302.57,128.40 L303.48,128.11 L304.40,127.84 L305.31,127.56 L306.23,127.29 L307.14,127.02 L308.06,126.75 L308.98,126.49 L309.90,126.23 L310.82,125.97 L311.74,125.72 L312.67,125.47 L313.59,125.22 L314.51,124.98 L315.44,124.73 L316.37,124.49 L317.29,124.26 L318.22,124.02 L319.15,123.79 L320.08,123.56 L321.01,123.33 L321.94,123.11 L322.87,122.89 L323.81,122.67 L324.74,122.45 L325.67,122.23 L326.61,122.02 L327.54,121.81 L328.48,121.60 L329.41,121.40 L330.35,121.19 L331.29,120.99 L332.22,120.79 L333.16,120.59 L334.10,120.40 L335.04,120.20 L335.98,120.01 L336.92,119.82 L337.86,119.63 L338.80,119.45 L339.74,119.26 L340.68,119.08 L341.62,118.90 L342.57,118.72 L343.51,118.54 L344.45,118.37 L345.39,118.19 L346.33,118.02 L347.28,117.85 L348.22,117.68 L349.16,117.51 L350.11,117.34 L351.05,117.18 L351.99,117.01 L352.94,116.85 L353.88,116.69 L354.82,116.53 L355.76,116.37 L356.71,116.21 L357.65,116.05 L358.59,115.90 L359.53,115.74 L360.48,115.59 L361.42,115.43 L362.36,115.28 L363.30,115.13 L364.24,114.98 L365.19,114.83 L366.13,114.68 L367.07,114.53 L368.01,114.38 L368.95,114.23 L369.89,114.09 L370.83,113.94 L371.76,113.80 L372.70,113.65 L373.64,113.51 L374.58,113.36 L375.51,113.22 L376.45,113.07 L377.39,112.93 L378.32,112.79 L379.26,112.65 L380.19,112.50 L381.12,112.36 L382.06,112.22 L382.99,112.08 L383.92,111.93 L384.85,111.79 L385.78,111.65 L386.71,111.51 L387.63,111.36 L388.56,111.22 L389.49,111.08 L390.41,110.94 L391.34,110.79 L392.26,110.65 L393.19,110.51 L394.11,110.36 L395.03,110.22 L395.95,110.07 L396.87,109.93 L397.78,109.78 L398.70,109.63 L399.62,109.49" fill="none" stroke="#ee1c24" stroke-width="2" stroke-dasharray="5.8,2.8"/>
<path d="M176.65,343.06 L176.85,342.25 L177.05,341.44 L177.24,340.63 L177.44,339.81 L177.64,339.00 L177.84,338.18 L178.03,337.36 L178.23,336.54 L178.43,335.72 L178.63,334.90 L178.83,334.08 L179.03,333.25 L179.23,332.43 L179.42,331.60 L179.62,330.77 L179.82,329.95 L180.02,329.12 L180.22,328.28 L180.42,327.45 L180.62,326.62 L180.82,325.79 L181.03,324.95 L181.23,324.11 L181.43,323.28 L181.63,322.44 L181.84,321.60 L182.04,320.76 L182.24,319.92 L182.45,319.08 L182.65,318.24 L182.86,317.40 L183.06,316.55 L183.27,315.71 L183.48,314.86 L183.69,314.02 L183.89,313.17 L184.10,312.33 L184.31,311.48 L184.52,310.63 L184.74,309.78 L184.95,308.93 L185.16,308.08 L185.38,307.23 L185.59,306.38 L185.81,305.53 L186.02,304.68 L186.24,303.83 L186.46,302.98 L186.68,302.13 L186.90,301.27 L187.12,300.42 L187.34,299.57 L187.56,298.71 L187.79,297.86 L188.01,297.01 L188.24,296.15 L188.46,295.30 L188.69,294.44 L188.92,293.59 L189.15,292.74 L189.38,291.88 L189.62,291.03 L189.85,290.17 L190.09,289.32 L190.32,288.46 L190.56,287.61 L190.80,286.76 L191.04,285.90 L191.28,285.05 L191.52,284.19 L191.77,283.34 L192.01,282.49 L192.26,281.63 L192.51,280.78 L192.76,279.93 L193.01,279.07 L193.27,278.22 L193.52,277.37 L193.78,276.52 L194.03,275.67 L194.29,274.82 L194.55,273.97 L194.82,273.12 L195.08,272.27 L195.35,271.42 L195.61,270.57 L195.88,269.72 L196.15,268.88 L196.43,268.03 L196.70,267.18 L196.98,266.34 L197.26,265.50 L197.54,264.65 L197.82,263.81 L198.10,262.97 L198.39,262.12 L198.67,261.28 L198.96,260.44 L199.25,259.60 L199.55,258.77 L199.84,257.93 L200.14,257.09 L200.44,256.26 L200.74,255.42 L201.04,254.59 L201.35,253.76 L201.66,252.93 L201.97,252.09 L202.28,251.27 L202.59,250.44 L202.91,249.61 L203.23,248.78 L203.55,247.96 L203.87,247.14 L204.20,246.31 L204.52,245.49 L204.85,244.67 L205.18,243.85 L205.52,243.04 L205.86,242.22 L206.20,241.40 L206.54,240.59 L206.88,239.78 L207.23,238.97 L207.58,238.16 L207.93,237.35 L208.28,236.55 L208.64,235.74 L209.00,234.94 L209.36,234.14 L209.72,233.34 L210.09,232.54 L210.46,231.74 L210.83,230.95 L211.21,230.15 L211.59,229.36 L211.97,228.57 L212.35,227.79 L212.73,227.00 L213.12,226.21 L213.52,225.43 L213.91,224.65 L214.31,223.87 L214.71,223.10 L215.11,222.32 L215.52,221.55 L215.92,220.78 L216.34,220.01 L216.75,219.24 L217.17,218.47 L217.59,217.71 L218.01,216.95 L218.44,216.19 L218.87,215.43 L219.30,214.68 L219.74,213.93 L220.18,213.18 L220.62,212.43 L221.07,211.68 L221.51,210.94 L221.97,210.20 L222.42,209.46 L222.88,208.72 L223.34,207.99 L223.81,207.26 L224.28,206.53 L224.75,205.80 L225.22,205.08 L225.70,204.35 L226.18,203.64 L226.67,202.92 L227.16,202.20 L227.65,201.49 L228.14,200.78 L228.64,200.08 L229.15,199.37 L229.65,198.67 L230.16,197.97 L230.68,197.28 L231.19,196.58 L231.71,195.89 L232.24,195.21 L232.77,194.52 L233.30,193.84 L233.83,193.16 L234.37,192.48 L234.91,191.81 L235.46,191.14 L236.01,190.47 L236.57,189.81 L237.12,189.15 L237.69,188.49 L238.25,187.83 L238.82,187.18 L239.39,186.53 L239.97,185.89 L240.55,185.24 L241.14,184.60 L241.73,183.97 L242.32,183.33 L242.92,182.70 L243.52,182.08 L244.12,181.45 L244.73,180.83 L245.35,180.21 L245.96,179.60 L246.58,178.99 L247.21,178.38 L247.83,177.78 L248.46,177.18 L249.10,176.58 L249.73,175.98 L250.38,175.39 L251.02,174.80 L251.67,174.22 L252.32,173.64 L252.97,173.06 L253.63,172.48 L254.29,171.91 L254.96,171.34 L255.63,170.78 L256.30,170.21 L256.97,169.66 L257.65,169.10 L258.33,168.55 L259.01,168.00 L259.70,167.45 L260.39,166.91 L261.08,166.37 L261.77,165.84 L262.47,165.30 L263.17,164.78 L263.87,164.25 L264.58,163.73 L265.29,163.21 L266.00,162.69 L266.71,162.18 L267.43,161.67 L268.15,161.17 L268.87,160.67 L269.60,160.17 L270.32,159.67 L271.05,159.18 L271.78,158.69 L272.52,158.21 L273.25,157.73 L273.99,157.25 L274.73,156.78 L275.48,156.31 L276.22,155.84 L276.97,155.37 L277.72,154.91 L278.47,154.46 L279.23,154.00 L279.98,153.55 L280.74,153.11 L281.50,152.66 L282.26,152.22 L283.02,151.79 L283.79,151.35 L284.56,150.93 L285.33,150.50 L286.10,150.08 L286.87,149.66 L287.64,149.24 L288.42,148.83 L289.20,148.42 L289.98,148.01 L290.76,147.61 L291.54,147.21 L292.33,146.81 L293.11,146.42 L293.90,146.03 L294.69,145.64 L295.48,145.26 L296.28,144.88 L297.07,144.50 L297.87,144.12 L298.66,143.75 L299.46,143.38 L300.26,143.02 L301.06,142.66 L301.87,142.30 L302.67,141.94 L303.47,141.59 L304.28,141.24 L305.09,140.89 L305.90,140.54 L306.71,140.20 L307.52,139.86 L308.33,139.53 L309.15,139.19 L309.96,138.86 L310.78,138.54 L311.59,138.21 L312.41,137.89 L313.23,137.57 L314.05,137.25 L314.87,136.94 L315.69,136.63 L316.51,136.32 L317.34,136.02 L318.16,135.71 L318.99,135.41 L319.81,135.12 L320.64,134.82 L321.47,134.53 L322.30,134.24 L323.13,133.95 L323.96,133.67 L324.79,133.38 L325.62,133.10 L326.45,132.83 L327.28,132.55 L328.12,132.28 L328.95,132.01 L329.79,131.74 L330.62,131.48 L331.46,131.22 L332.29,130.95 L333.13,130.70 L333.97,130.44 L334.81,130.19 L335.65,129.94 L336.49,129.69 L337.33,129.44 L338.17,129.20 L339.01,128.95 L339.86,128.71 L340.70,128.48 L341.54,128.24 L342.39,128.01 L343.23,127.77 L344.08,127.54 L344.92,127.32 L345.77,127.09 L346.62,126.87 L347.46,126.65 L348.31,126.43 L349.16,126.21 L350.01,125.99 L350.86,125.78 L351.71,125.57 L352.56,125.36 L353.41,125.15 L354.26,124.95 L355.11,124.74 L355.96,124.54 L356.82,124.34 L357.67,124.14 L358.52,123.94 L359.38,123.75 L360.23,123.55 L361.08,123.36 L361.94,123.17 L362.79,122.98 L363.65,122.79 L364.50,122.61 L365.36,122.42 L366.22,122.24 L367.07,122.06 L367.93,121.88 L368.79,121.70 L369.64,121.53 L370.50,121.35 L371.36,121.18 L372.22,121.01 L373.08,120.84 L373.94,120.67 L374.79,120.50 L375.65,120.34 L376.51,120.17 L377.37,120.01 L378.23,119.84 L379.09,119.68 L379.95,119.52 L380.81,119.37 L381.67,119.21 L382.53,119.05 L383.39,118.90 L384.25,118.74 L385.12,118.59 L385.98,118.44 L386.84,118.29 L387.70,118.14 L388.56,117.99 L389.42,117.85 L390.28,117.70 L391.14,117.55 L392.01,117.41 L392.87,117.27 L393.73,117.13 L394.59,116.98 L395.45,116.84 L396.31,116.71 L397.18,116.57 L398.04,116.43 L398.90,116.29 L399.76,116.16" fill="none" stroke="#2b45a3" stroke-width="2"/>
<path d="M144.75,343.30 L145.09,342.45 L145.42,341.60 L145.76,340.74 L146.09,339.88 L146.42,339.03 L146.75,338.17 L147.08,337.31 L147.41,336.45 L147.74,335.59 L148.06,334.72 L148.39,333.86 L148.71,333.00 L149.03,332.13 L149.36,331.27 L149.68,330.40 L150.00,329.53 L150.32,328.67 L150.64,327.80 L150.95,326.93 L151.27,326.06 L151.59,325.19 L151.91,324.32 L152.22,323.45 L152.54,322.57 L152.85,321.70 L153.17,320.83 L153.48,319.95 L153.79,319.08 L154.11,318.20 L154.42,317.33 L154.73,316.45 L155.04,315.58 L155.35,314.70 L155.67,313.82 L155.98,312.94 L156.29,312.07 L156.60,311.19 L156.91,310.31 L157.22,309.43 L157.53,308.55 L157.85,307.67 L158.16,306.79 L158.47,305.91 L158.78,305.03 L159.09,304.15 L159.41,303.27 L159.72,302.39 L160.03,301.51 L160.34,300.63 L160.66,299.75 L160.97,298.87 L161.29,297.98 L161.60,297.10 L161.92,296.22 L162.23,295.34 L162.55,294.46 L162.86,293.58 L163.18,292.70 L163.50,291.82 L163.82,290.93 L164.14,290.05 L164.46,289.17 L164.78,288.29 L165.11,287.41 L165.43,286.53 L165.75,285.65 L166.08,284.77 L166.40,283.89 L166.73,283.01 L167.06,282.14 L167.39,281.26 L167.72,280.38 L168.05,279.50 L168.39,278.62 L168.72,277.75 L169.06,276.87 L169.39,275.99 L169.73,275.12 L170.07,274.24 L170.41,273.37 L170.75,272.49 L171.10,271.62 L171.44,270.75 L171.79,269.87 L172.14,269.00 L172.49,268.13 L172.84,267.26 L173.20,266.39 L173.55,265.52 L173.91,264.65 L174.27,263.78 L174.63,262.92 L174.99,262.05 L175.36,261.19 L175.73,260.32 L176.10,259.46 L176.47,258.59 L176.84,257.73 L177.21,256.87 L177.59,256.01 L177.97,255.15 L178.35,254.29 L178.74,253.43 L179.12,252.57 L179.51,251.72 L179.90,250.86 L180.30,250.01 L180.69,249.16 L181.09,248.31 L181.49,247.45 L181.89,246.61 L182.30,245.76 L182.71,244.91 L183.12,244.06 L183.53,243.22 L183.95,242.37 L184.37,241.53 L184.79,240.69 L185.21,239.85 L185.64,239.01 L186.07,238.18 L186.50,237.34 L186.93,236.51 L187.37,235.68 L187.81,234.84 L188.25,234.02 L188.70,233.19 L189.15,232.36 L189.60,231.54 L190.05,230.71 L190.50,229.89 L190.96,229.07 L191.43,228.26 L191.89,227.44 L192.36,226.63 L192.83,225.81 L193.30,225.00 L193.78,224.20 L194.25,223.39 L194.74,222.58 L195.22,221.78 L195.71,220.98 L196.20,220.18 L196.69,219.39 L197.19,218.59 L197.69,217.80 L198.19,217.01 L198.69,216.22 L199.20,215.44 L199.71,214.65 L200.22,213.87 L200.74,213.09 L201.26,212.32 L201.78,211.54 L202.31,210.77 L202.84,210.00 L203.37,209.24 L203.91,208.47 L204.45,207.71 L204.99,206.95 L205.53,206.20 L206.08,205.44 L206.63,204.69 L207.19,203.94 L207.74,203.20 L208.30,202.45 L208.87,201.71 L209.43,200.98 L210.00,200.24 L210.58,199.51 L211.16,198.78 L211.74,198.06 L212.32,197.33 L212.91,196.61 L213.50,195.90 L214.09,195.18 L214.69,194.47 L215.29,193.76 L215.89,193.06 L216.50,192.36 L217.11,191.66 L217.72,190.96 L218.34,190.27 L218.96,189.58 L219.58,188.90 L220.21,188.21 L220.84,187.53 L221.48,186.86 L222.11,186.19 L222.75,185.52 L223.40,184.85 L224.05,184.19 L224.70,183.53 L225.35,182.87 L226.01,182.22 L226.67,181.57 L227.33,180.93 L228.00,180.28 L228.67,179.65 L229.35,179.01 L230.02,178.38 L230.70,177.75 L231.39,177.12 L232.07,176.50 L232.76,175.88 L233.45,175.26 L234.15,174.65 L234.85,174.04 L235.55,173.44 L236.25,172.83 L236.96,172.23 L237.67,171.64 L238.39,171.05 L239.10,170.46 L239.82,169.87 L240.54,169.29 L241.27,168.71 L241.99,168.13 L242.72,167.56 L243.46,166.99 L244.19,166.42 L244.93,165.86 L245.67,165.30 L246.42,164.74 L247.16,164.19 L247.91,163.64 L248.66,163.10 L249.42,162.55 L250.18,162.01 L250.94,161.48 L251.70,160.94 L252.46,160.41 L253.23,159.89 L254.00,159.36 L254.77,158.84 L255.55,158.33 L256.32,157.81 L257.10,157.31 L257.88,156.80 L258.67,156.30 L259.46,155.80 L260.24,155.30 L261.04,154.81 L261.83,154.32 L262.62,153.83 L263.42,153.35 L264.22,152.87 L265.03,152.39 L265.83,151.92 L266.64,151.45 L267.45,150.98 L268.26,150.52 L269.07,150.06 L269.89,149.60 L270.70,149.15 L271.52,148.70 L272.34,148.25 L273.17,147.81 L273.99,147.37 L274.82,146.93 L275.65,146.50 L276.48,146.07 L277.31,145.64 L278.15,145.22 L278.99,144.80 L279.82,144.38 L280.66,143.97 L281.51,143.56 L282.35,143.15 L283.20,142.75 L284.04,142.35 L284.89,141.95 L285.74,141.56 L286.60,141.17 L287.45,140.78 L288.31,140.40 L289.17,140.02 L290.02,139.64 L290.89,139.27 L291.75,138.90 L292.61,138.53 L293.48,138.17 L294.34,137.81 L295.21,137.45 L296.08,137.10 L296.95,136.75 L297.83,136.40 L298.70,136.06 L299.58,135.72 L300.45,135.38 L301.33,135.05 L302.21,134.72 L303.09,134.39 L303.97,134.07 L304.86,133.75 L305.74,133.43 L306.63,133.11 L307.52,132.80 L308.40,132.50 L309.29,132.19 L310.18,131.89 L311.08,131.59 L311.97,131.29 L312.86,131.00 L313.76,130.71 L314.65,130.43 L315.55,130.14 L316.45,129.86 L317.35,129.58 L318.25,129.31 L319.15,129.03 L320.05,128.76 L320.95,128.50 L321.85,128.23 L322.76,127.97 L323.66,127.71 L324.57,127.46 L325.48,127.20 L326.38,126.95 L327.29,126.70 L328.20,126.46 L329.11,126.21 L330.02,125.97 L330.93,125.74 L331.84,125.50 L332.76,125.27 L333.67,125.04 L334.58,124.81 L335.50,124.58 L336.41,124.36 L337.33,124.14 L338.24,123.92 L339.16,123.70 L340.08,123.48 L340.99,123.27 L341.91,123.06 L342.83,122.85 L343.75,122.65 L344.67,122.44 L345.58,122.24 L346.50,122.04 L347.42,121.84 L348.34,121.65 L349.26,121.45 L350.18,121.26 L351.10,121.07 L352.03,120.88 L352.95,120.69 L353.87,120.51 L354.79,120.33 L355.71,120.15 L356.63,119.97 L357.55,119.79 L358.48,119.61 L359.40,119.44 L360.32,119.27 L361.24,119.10 L362.16,118.93 L363.08,118.76 L364.01,118.59 L364.93,118.43 L365.85,118.27 L366.77,118.10 L367.69,117.94 L368.61,117.79 L369.53,117.63 L370.45,117.47 L371.38,117.32 L372.30,117.17 L373.22,117.01 L374.13,116.86 L375.05,116.71 L375.97,116.57 L376.89,116.42 L377.81,116.27 L378.73,116.13 L379.65,115.99 L380.56,115.84 L381.48,115.70 L382.40,115.56 L383.31,115.42 L384.23,115.29 L385.14,115.15 L386.06,115.01 L386.97,114.88 L387.88,114.74 L388.79,114.61 L389.71,114.48 L390.62,114.35 L391.53,114.22 L392.44,114.09 L393.35,113.96 L394.25,113.83 L395.16,113.70 L396.07,113.57 L396.97,113.45 L397.88,113.32 L398.78,113.19 L399.69,113.07" fill="none" stroke="#2b45a3" stroke-width="2"/>
<path d="M46.61,371.69 L46.69,370.10 L46.78,368.51 L46.86,366.92 L46.94,365.32 L47.02,363.73 L47.10,362.14 L47.18,360.55 L47.26,358.96 L47.34,357.37 L47.42,355.77 L47.50,354.18 L47.58,352.59 L47.66,351.00 L47.74,349.41 L47.82,347.81 L47.90,346.22 L47.97,344.63 L48.05,343.04 L48.13,341.45 L48.21,339.85 L48.29,338.26 L48.37,336.67 L48.44,335.08 L48.52,333.48 L48.60,331.89 L48.68,330.30 L48.76,328.70 L48.84,327.11 L48.91,325.52 L48.99,323.93 L49.07,322.33 L49.15,320.74 L49.23,319.15 L49.31,317.55 L49.39,315.96 L49.47,314.37 L49.55,312.78 L49.63,311.18 L49.71,309.59 L49.79,308.00 L49.88,306.40 L49.96,304.81 L50.04,303.22 L50.12,301.63 L50.21,300.03 L50.29,298.44 L50.37,296.85 L50.46,295.25 L50.54,293.66 L50.63,292.07 L50.72,290.48 L50.80,288.88 L50.89,287.29 L50.98,285.70 L51.07,284.10 L51.16,282.51 L51.25,280.92 L51.34,279.33 L51.43,277.73 L51.52,276.14 L51.61,274.55 L51.71,272.96 L51.80,271.36 L51.90,269.77 L51.99,268.18 L52.09,266.59 L52.19,265.00 L52.28,263.40 L52.38,261.81 L52.49,260.22 L52.59,258.63 L52.69,257.04 L52.79,255.45 L52.90,253.85 L53.00,252.26 L53.11,250.67 L53.22,249.08 L53.32,247.49 L53.43,245.90 L53.55,244.31 L53.66,242.72 L53.77,241.13 L53.88,239.54 L54.00,237.94 L54.12,236.35 L54.24,234.76 L54.35,233.17 L54.47,231.58 L54.60,229.99 L54.72,228.40 L54.84,226.81 L54.97,225.23 L55.10,223.64 L55.23,222.05 L55.36,220.46 L55.49,218.87 L55.62,217.28 L55.76,215.69 L55.89,214.10 L56.03,212.51 L56.17,210.93 L56.31,209.34 L56.45,207.75 L56.59,206.16 L56.74,204.57 L56.89,202.99 L57.04,201.40 L57.19,199.81 L57.34,198.23 L57.49,196.64 L57.65,195.05 L57.80,193.47 L57.96,191.88 L58.12,190.29 L58.29,188.71 L58.45,187.12 L58.62,185.54 L58.78,183.95 L58.95,182.37 L59.13,180.78 L59.30,179.20 L59.48,177.61 L59.65,176.03 L59.83,174.44 L60.02,172.86 L60.20,171.28 L60.39,169.69 L60.57,168.11 L60.76,166.53 L60.96,164.94 L61.15,163.36 L61.35,161.78 L61.55,160.20 L61.75,158.61 L61.95,157.03 L62.16,155.45 L62.37,153.87 L62.58,152.29 L62.80,150.71 L63.03,149.13 L63.26,147.56 L63.49,145.98 L63.73,144.40 L63.98,142.83 L64.23,141.25 L64.49,139.68 L64.76,138.11 L65.03,136.53 L65.31,134.96 L65.60,133.40 L65.90,131.83 L66.21,130.26 L66.53,128.70 L66.86,127.13 L67.19,125.57 L67.54,124.01 L67.90,122.46 L68.27,120.90 L68.65,119.35 L69.05,117.80 L69.46,116.25 L69.88,114.72 L70.32,113.18 L70.78,111.65 L71.25,110.13 L71.74,108.61 L72.25,107.11 L72.79,105.61 L73.34,104.12 L73.91,102.63 L74.50,101.16 L75.12,99.70 L75.76,98.25 L76.42,96.81 L77.11,95.38 L77.83,93.96 L78.57,92.56 L79.34,91.17 L80.13,89.80 L80.96,88.44 L81.82,87.09 L82.70,85.77 L83.61,84.45 L84.56,83.16 L85.53,81.89 L86.52,80.64 L87.55,79.41 L88.60,78.21 L89.68,77.03 L90.79,75.87 L91.92,74.75 L93.08,73.65 L94.26,72.58 L95.47,71.55 L96.70,70.54 L97.96,69.57 L99.24,68.63 L100.54,67.72 L101.87,66.85 L103.22,66.01 L104.58,65.20 L105.97,64.43 L107.38,63.69 L108.81,62.98 L110.25,62.30 L111.71,61.65 L113.18,61.04 L114.66,60.44 L116.16,59.88 L117.66,59.34 L119.17,58.83 L120.69,58.33 L122.22,57.86 L123.75,57.42 L125.29,56.99 L126.83,56.58 L128.37,56.19 L129.92,55.82 L131.48,55.47 L133.03,55.14 L134.59,54.82 L136.16,54.52 L137.73,54.23 L139.30,53.96 L140.87,53.70 L142.44,53.46 L144.02,53.22 L145.60,53.00 L147.19,52.79 L148.77,52.59 L150.36,52.40 L151.94,52.22 L153.53,52.05 L155.12,51.88 L156.71,51.72 L158.30,51.57 L159.89,51.42 L161.49,51.28 L163.08,51.14 L164.67,51.01 L166.26,50.88 L167.85,50.76 L169.44,50.64 L171.04,50.52 L172.63,50.41 L174.22,50.30 L175.81,50.20 L177.40,50.10 L179.00,50.01 L180.59,49.92 L182.18,49.83 L183.77,49.75 L185.37,49.67 L186.96,49.60 L188.55,49.53 L190.14,49.46 L191.74,49.40 L193.33,49.34 L194.92,49.28 L196.52,49.23 L198.11,49.18 L199.70,49.13 L201.30,49.09 L202.89,49.05 L204.48,49.01 L206.08,48.98 L207.67,48.95 L209.27,48.92 L210.86,48.90 L212.45,48.88 L214.05,48.86 L215.64,48.85 L217.24,48.83 L218.83,48.83 L220.42,48.82 L222.02,48.81 L223.61,48.81 L225.21,48.81 L226.80,48.82 L228.39,48.82 L229.99,48.83 L231.58,48.84 L233.18,48.85 L234.77,48.87 L236.37,48.89 L237.96,48.90 L239.56,48.93 L241.15,48.95 L242.74,48.97 L244.34,49.00 L245.93,49.03 L247.53,49.06 L249.12,49.09 L250.72,49.12 L252.31,49.16 L253.91,49.20 L255.50,49.23 L257.09,49.27 L258.69,49.31 L260.28,49.36 L261.88,49.40 L263.47,49.45 L265.07,49.49 L266.66,49.54 L268.26,49.59 L269.85,49.63 L271.44,49.68 L273.04,49.74 L274.63,49.79 L276.23,49.84 L277.82,49.89 L279.42,49.95 L281.01,50.00 L282.60,50.05 L284.20,50.11 L285.79,50.17 L287.39,50.22 L288.98,50.28 L290.58,50.33 L292.17,50.39 L293.76,50.45 L295.36,50.51 L296.95,50.56 L298.54,50.62 L300.14,50.68 L301.73,50.74 L303.33,50.80 L304.92,50.86 L306.51,50.91 L308.11,50.97 L309.70,51.03 L311.29,51.09 L312.89,51.15 L314.48,51.22 L316.07,51.28 L317.67,51.34 L319.26,51.40 L320.85,51.46 L322.45,51.53 L324.04,51.59 L325.63,51.65 L327.23,51.72 L328.82,51.78 L330.41,51.85 L332.01,51.91 L333.60,51.98 L335.19,52.05 L336.78,52.11 L338.38,52.18 L339.97,52.25 L341.56,52.32 L343.16,52.38 L344.75,52.45 L346.34,52.52 L347.93,52.59 L349.53,52.67 L351.12,52.74 L352.71,52.81 L354.30,52.88 L355.90,52.96 L357.49,53.03 L359.08,53.10 L360.68,53.18 L362.27,53.26 L363.86,53.33 L365.45,53.41 L367.05,53.49 L368.64,53.56 L370.23,53.64 L371.82,53.72 L373.41,53.80 L375.01,53.89 L376.60,53.97 L378.19,54.05 L379.78,54.13 L381.38,54.22 L382.97,54.30 L384.56,54.39 L386.15,54.47 L387.75,54.56 L389.34,54.65 L390.93,54.74 L392.52,54.83 L394.11,54.92 L395.71,55.01 L397.30,55.10 L398.89,55.19 L400.48,55.29 L402.08,55.38 L403.67,55.48 L405.26,55.57 L406.85,55.67 L408.44,55.77 L410.04,55.87 L411.63,55.97 L413.22,56.07 L414.81,56.17 L416.41,56.27 L418.00,56.37" fill="none" stroke="#ee1c24" stroke-width="2" stroke-dasharray="5.8,2.8"/>
<path d="M46.45,218.47 L46.64,217.24 L46.84,216.01 L47.02,214.78 L47.21,213.55 L47.40,212.33 L47.58,211.10 L47.77,209.88 L47.95,208.66 L48.13,207.43 L48.31,206.21 L48.48,204.99 L48.66,203.77 L48.83,202.56 L49.01,201.34 L49.18,200.12 L49.36,198.91 L49.53,197.69 L49.70,196.48 L49.87,195.27 L50.04,194.05 L50.21,192.84 L50.38,191.63 L50.55,190.42 L50.72,189.22 L50.89,188.01 L51.06,186.80 L51.23,185.59 L51.40,184.39 L51.57,183.18 L51.74,181.98 L51.92,180.77 L52.09,179.57 L52.26,178.36 L52.44,177.16 L52.61,175.96 L52.79,174.76 L52.97,173.56 L53.14,172.35 L53.32,171.15 L53.51,169.95 L53.69,168.75 L53.87,167.55 L54.06,166.35 L54.25,165.15 L54.44,163.95 L54.63,162.75 L54.82,161.56 L55.02,160.36 L55.21,159.16 L55.41,157.96 L55.62,156.76 L55.82,155.56 L56.03,154.36 L56.24,153.17 L56.45,151.97 L56.67,150.77 L56.88,149.57 L57.11,148.37 L57.33,147.17 L57.56,145.97 L57.79,144.78 L58.02,143.58 L58.26,142.38 L58.50,141.18 L58.74,139.98 L58.99,138.78 L59.24,137.58 L59.50,136.38 L59.76,135.17 L60.02,133.97 L60.29,132.77 L60.56,131.57 L60.84,130.37 L61.12,129.16 L61.41,127.96 L61.70,126.75 L61.99,125.55 L62.29,124.35 L62.60,123.14 L62.91,121.94 L63.23,120.74 L63.55,119.54 L63.88,118.34 L64.22,117.14 L64.56,115.95 L64.92,114.76 L65.28,113.57 L65.64,112.38 L66.02,111.20 L66.41,110.03 L66.80,108.85 L67.21,107.69 L67.62,106.52 L68.05,105.37 L68.48,104.22 L68.93,103.07 L69.38,101.93 L69.85,100.80 L70.33,99.68 L70.82,98.56 L71.33,97.45 L71.84,96.35 L72.37,95.26 L72.91,94.17 L73.47,93.10 L74.04,92.03 L74.62,90.98 L75.22,89.93 L75.83,88.90 L76.46,87.87 L77.10,86.86 L77.76,85.86 L78.44,84.87 L79.13,83.89 L79.83,82.93 L80.56,81.98 L81.30,81.04 L82.06,80.11 L82.83,79.20 L83.63,78.30 L84.44,77.42 L85.27,76.55 L86.12,75.70 L86.99,74.86 L87.88,74.04 L88.78,73.23 L89.71,72.44 L90.65,71.67 L91.60,70.91 L92.58,70.17 L93.56,69.44 L94.57,68.73 L95.58,68.04 L96.61,67.37 L97.65,66.71 L98.71,66.08 L99.77,65.45 L100.85,64.85 L101.94,64.26 L103.03,63.69 L104.14,63.14 L105.25,62.60 L106.38,62.08 L107.51,61.58 L108.64,61.09 L109.79,60.62 L110.94,60.16 L112.09,59.71 L113.25,59.28 L114.41,58.87 L115.58,58.47 L116.75,58.08 L117.92,57.71 L119.10,57.35 L120.27,57.01 L121.45,56.67 L122.64,56.35 L123.82,56.05 L125.01,55.75 L126.20,55.46 L127.39,55.19 L128.58,54.93 L129.78,54.67 L130.97,54.43 L132.17,54.20 L133.37,53.98 L134.58,53.76 L135.78,53.56 L136.99,53.36 L138.19,53.18 L139.40,53.00 L140.61,52.82 L141.82,52.66 L143.04,52.50 L144.25,52.35 L145.46,52.21 L146.68,52.07 L147.89,51.93 L149.11,51.81 L150.33,51.69 L151.55,51.57 L152.77,51.45 L153.99,51.35 L155.21,51.24 L156.43,51.14 L157.65,51.04 L158.87,50.95 L160.09,50.85 L161.31,50.76 L162.53,50.67 L163.75,50.59 L164.97,50.50 L166.19,50.42 L167.41,50.34 L168.64,50.26 L169.86,50.19 L171.08,50.11 L172.30,50.04 L173.52,49.97 L174.74,49.91 L175.96,49.84 L177.19,49.78 L178.41,49.71 L179.63,49.66 L180.85,49.60 L182.07,49.54 L183.29,49.49 L184.52,49.44 L185.74,49.39 L186.96,49.34 L188.18,49.29 L189.40,49.25 L190.63,49.20 L191.85,49.16 L193.07,49.12 L194.29,49.09 L195.51,49.05 L196.74,49.02 L197.96,48.99 L199.18,48.95 L200.40,48.93 L201.63,48.90 L202.85,48.87 L204.07,48.85 L205.29,48.83 L206.52,48.81 L207.74,48.79 L208.96,48.77 L210.18,48.75 L211.41,48.74 L212.63,48.72 L213.85,48.71 L215.08,48.70 L216.30,48.69 L217.52,48.68 L218.74,48.68 L219.97,48.67 L221.19,48.67 L222.41,48.67 L223.64,48.67 L224.86,48.67 L226.08,48.67 L227.30,48.67 L228.53,48.68 L229.75,48.68 L230.97,48.69 L232.20,48.70 L233.42,48.70 L234.64,48.71 L235.87,48.73 L237.09,48.74 L238.31,48.75 L239.54,48.77 L240.76,48.78 L241.98,48.80 L243.20,48.82 L244.43,48.83 L245.65,48.85 L246.87,48.87 L248.10,48.90 L249.32,48.92 L250.54,48.94 L251.77,48.97 L252.99,48.99 L254.21,49.02 L255.44,49.04 L256.66,49.07 L257.88,49.10 L259.11,49.13 L260.33,49.16 L261.55,49.19 L262.78,49.22 L264.00,49.26 L265.22,49.29 L266.45,49.32 L267.67,49.36 L268.89,49.39 L270.11,49.43 L271.34,49.46 L272.56,49.50 L273.78,49.54 L275.01,49.58 L276.23,49.62 L277.45,49.65 L278.68,49.69 L279.90,49.73 L281.12,49.77 L282.35,49.82 L283.57,49.86 L284.79,49.90 L286.01,49.94 L287.24,49.98 L288.46,50.03 L289.68,50.07 L290.91,50.11 L292.13,50.16 L293.35,50.20 L294.57,50.25 L295.80,50.29 L297.02,50.34 L298.24,50.38 L299.47,50.43 L300.69,50.48 L301.91,50.52 L303.13,50.57 L304.36,50.62 L305.58,50.66 L306.80,50.71 L308.02,50.76 L309.25,50.81 L310.47,50.86 L311.69,50.91 L312.91,50.96 L314.14,51.01 L315.36,51.06 L316.58,51.11 L317.80,51.16 L319.03,51.21 L320.25,51.26 L321.47,51.31 L322.69,51.36 L323.92,51.41 L325.14,51.47 L326.36,51.52 L327.58,51.57 L328.80,51.62 L330.03,51.68 L331.25,51.73 L332.47,51.78 L333.69,51.84 L334.92,51.89 L336.14,51.95 L337.36,52.00 L338.58,52.06 L339.80,52.11 L341.03,52.17 L342.25,52.23 L343.47,52.28 L344.69,52.34 L345.91,52.40 L347.14,52.45 L348.36,52.51 L349.58,52.57 L350.80,52.63 L352.02,52.68 L353.25,52.74 L354.47,52.80 L355.69,52.86 L356.91,52.92 L358.13,52.98 L359.36,53.04 L360.58,53.10 L361.80,53.16 L363.02,53.22 L364.24,53.28 L365.47,53.34 L366.69,53.40 L367.91,53.46 L369.13,53.52 L370.35,53.59 L371.57,53.65 L372.80,53.71 L374.02,53.77 L375.24,53.84 L376.46,53.90 L377.68,53.96 L378.91,54.03 L380.13,54.09 L381.35,54.15 L382.57,54.22 L383.79,54.28 L385.01,54.35 L386.24,54.41 L387.46,54.47 L388.68,54.54 L389.90,54.61 L391.12,54.67 L392.34,54.74 L393.57,54.80 L394.79,54.87 L396.01,54.94 L397.23,55.00 L398.45,55.07 L399.67,55.14 L400.89,55.20 L402.12,55.27 L403.34,55.34 L404.56,55.40 L405.78,55.47 L407.00,55.54 L408.22,55.61 L409.45,55.68 L410.67,55.75 L411.89,55.82 L413.11,55.88 L414.33,55.95 L415.55,56.02 L416.78,56.09 L418.00,56.16" fill="none" stroke="#ee1c24" stroke-width="2" stroke-dasharray="5.8,2.8"/>
<path d="M46.62,359.05 L46.70,357.49 L46.78,355.93 L46.86,354.37 L46.95,352.82 L47.03,351.26 L47.11,349.71 L47.19,348.15 L47.28,346.59 L47.36,345.04 L47.44,343.48 L47.52,341.93 L47.60,340.37 L47.69,338.82 L47.77,337.27 L47.85,335.71 L47.93,334.16 L48.02,332.60 L48.10,331.05 L48.18,329.50 L48.27,327.95 L48.35,326.39 L48.44,324.84 L48.52,323.29 L48.61,321.74 L48.69,320.19 L48.78,318.64 L48.86,317.08 L48.95,315.53 L49.03,313.98 L49.12,312.43 L49.21,310.88 L49.30,309.33 L49.39,307.78 L49.47,306.23 L49.56,304.68 L49.65,303.13 L49.74,301.59 L49.83,300.04 L49.93,298.49 L50.02,296.94 L50.11,295.39 L50.20,293.84 L50.30,292.30 L50.39,290.75 L50.49,289.20 L50.58,287.65 L50.68,286.11 L50.78,284.56 L50.88,283.01 L50.98,281.47 L51.08,279.92 L51.18,278.37 L51.28,276.83 L51.38,275.28 L51.49,273.73 L51.59,272.19 L51.69,270.64 L51.80,269.10 L51.91,267.55 L52.02,266.01 L52.13,264.46 L52.24,262.92 L52.35,261.37 L52.46,259.83 L52.57,258.28 L52.69,256.74 L52.80,255.19 L52.92,253.65 L53.04,252.11 L53.15,250.56 L53.27,249.02 L53.40,247.47 L53.52,245.93 L53.64,244.39 L53.77,242.84 L53.89,241.30 L54.02,239.76 L54.15,238.21 L54.28,236.67 L54.41,235.13 L54.54,233.58 L54.68,232.04 L54.81,230.50 L54.95,228.95 L55.09,227.41 L55.23,225.87 L55.37,224.32 L55.51,222.78 L55.66,221.24 L55.80,219.70 L55.95,218.15 L56.10,216.61 L56.25,215.07 L56.40,213.53 L56.56,211.98 L56.71,210.44 L56.87,208.90 L57.03,207.36 L57.19,205.81 L57.35,204.27 L57.51,202.73 L57.68,201.19 L57.85,199.64 L58.02,198.10 L58.19,196.56 L58.36,195.02 L58.54,193.47 L58.71,191.93 L58.89,190.39 L59.07,188.85 L59.25,187.31 L59.44,185.76 L59.62,184.22 L59.81,182.68 L60.00,181.14 L60.20,179.59 L60.39,178.05 L60.59,176.51 L60.78,174.97 L60.99,173.42 L61.19,171.88 L61.39,170.34 L61.60,168.80 L61.81,167.25 L62.02,165.71 L62.23,164.17 L62.45,162.62 L62.67,161.08 L62.89,159.54 L63.11,157.99 L63.33,156.45 L63.56,154.91 L63.79,153.37 L64.03,151.82 L64.26,150.28 L64.51,148.74 L64.75,147.20 L65.01,145.66 L65.27,144.12 L65.53,142.59 L65.81,141.05 L66.09,139.52 L66.38,137.99 L66.68,136.46 L66.99,134.94 L67.30,133.42 L67.63,131.90 L67.97,130.38 L68.32,128.87 L68.69,127.36 L69.06,125.85 L69.45,124.35 L69.85,122.85 L70.27,121.36 L70.70,119.87 L71.15,118.39 L71.61,116.91 L72.09,115.44 L72.58,113.97 L73.09,112.51 L73.62,111.05 L74.17,109.60 L74.74,108.15 L75.32,106.71 L75.93,105.28 L76.56,103.86 L77.20,102.44 L77.87,101.04 L78.56,99.64 L79.27,98.26 L80.00,96.88 L80.75,95.52 L81.53,94.18 L82.32,92.85 L83.14,91.53 L83.99,90.23 L84.85,88.95 L85.74,87.69 L86.66,86.45 L87.60,85.22 L88.56,84.02 L89.55,82.84 L90.56,81.68 L91.60,80.54 L92.66,79.43 L93.75,78.34 L94.86,77.28 L96.00,76.24 L97.16,75.23 L98.35,74.25 L99.55,73.28 L100.78,72.35 L102.02,71.43 L103.29,70.55 L104.57,69.68 L105.87,68.84 L107.19,68.03 L108.52,67.24 L109.87,66.47 L111.23,65.73 L112.61,65.01 L114.00,64.31 L115.39,63.64 L116.80,63.00 L118.22,62.37 L119.65,61.77 L121.09,61.20 L122.53,60.64 L123.98,60.11 L125.43,59.61 L126.90,59.12 L128.37,58.66 L129.84,58.21 L131.32,57.79 L132.81,57.39 L134.30,57.00 L135.80,56.64 L137.30,56.29 L138.81,55.96 L140.32,55.64 L141.83,55.35 L143.35,55.06 L144.88,54.80 L146.41,54.55 L147.94,54.31 L149.48,54.09 L151.02,53.88 L152.56,53.68 L154.10,53.49 L155.65,53.32 L157.20,53.15 L158.75,53.00 L160.31,52.85 L161.87,52.72 L163.42,52.59 L164.99,52.47 L166.55,52.36 L168.11,52.26 L169.67,52.16 L171.24,52.07 L172.80,51.98 L174.37,51.90 L175.94,51.83 L177.50,51.75 L179.07,51.68 L180.63,51.61 L182.20,51.55 L183.76,51.48 L185.32,51.42 L186.89,51.36 L188.45,51.31 L190.01,51.25 L191.58,51.20 L193.14,51.15 L194.70,51.10 L196.26,51.05 L197.82,51.01 L199.38,50.97 L200.94,50.93 L202.50,50.89 L204.06,50.85 L205.61,50.82 L207.17,50.78 L208.73,50.75 L210.29,50.73 L211.84,50.70 L213.40,50.67 L214.95,50.65 L216.51,50.63 L218.07,50.61 L219.62,50.59 L221.18,50.58 L222.73,50.56 L224.28,50.55 L225.84,50.54 L227.39,50.53 L228.94,50.52 L230.50,50.52 L232.05,50.51 L233.60,50.51 L235.15,50.51 L236.70,50.51 L238.25,50.51 L239.81,50.52 L241.36,50.52 L242.91,50.53 L244.46,50.54 L246.01,50.55 L247.56,50.56 L249.11,50.57 L250.66,50.59 L252.21,50.60 L253.75,50.62 L255.30,50.64 L256.85,50.66 L258.40,50.68 L259.95,50.70 L261.50,50.73 L263.04,50.75 L264.59,50.78 L266.14,50.80 L267.69,50.83 L269.23,50.86 L270.78,50.90 L272.33,50.93 L273.87,50.96 L275.42,51.00 L276.97,51.03 L278.51,51.07 L280.06,51.11 L281.61,51.15 L283.15,51.19 L284.70,51.23 L286.25,51.27 L287.79,51.31 L289.34,51.36 L290.88,51.40 L292.43,51.45 L293.98,51.50 L295.52,51.55 L297.07,51.60 L298.61,51.65 L300.16,51.70 L301.71,51.75 L303.25,51.80 L304.80,51.85 L306.34,51.91 L307.89,51.96 L309.43,52.02 L310.98,52.07 L312.53,52.13 L314.07,52.19 L315.62,52.25 L317.16,52.31 L318.71,52.37 L320.26,52.43 L321.80,52.49 L323.35,52.55 L324.90,52.61 L326.44,52.67 L327.99,52.74 L329.54,52.80 L331.08,52.86 L332.63,52.93 L334.18,52.99 L335.72,53.06 L337.27,53.13 L338.82,53.19 L340.37,53.26 L341.92,53.33 L343.46,53.39 L345.01,53.46 L346.56,53.53 L348.11,53.60 L349.66,53.67 L351.21,53.74 L352.75,53.81 L354.30,53.88 L355.85,53.94 L357.40,54.01 L358.95,54.08 L360.50,54.16 L362.05,54.23 L363.61,54.30 L365.16,54.37 L366.71,54.44 L368.26,54.51 L369.81,54.58 L371.36,54.65 L372.91,54.72 L374.47,54.79 L376.02,54.86 L377.57,54.93 L379.13,55.00 L380.68,55.08 L382.24,55.15 L383.79,55.22 L385.34,55.29 L386.90,55.36 L388.46,55.43 L390.01,55.50 L391.57,55.57 L393.12,55.64 L394.68,55.71 L396.24,55.78 L397.80,55.84 L399.35,55.91 L400.91,55.98 L402.47,56.05 L404.03,56.12 L405.59,56.18 L407.15,56.25 L408.71,56.32 L410.27,56.38 L411.83,56.45 L413.40,56.51 L414.96,56.58 L416.52,56.64 L418.08,56.70" fill="none" stroke="#2b45a3" stroke-width="2"/>
<path d="M46.63,218.50 L46.82,217.27 L47.02,216.05 L47.21,214.83 L47.40,213.61 L47.59,212.40 L47.78,211.18 L47.97,209.97 L48.16,208.75 L48.34,207.54 L48.53,206.33 L48.71,205.12 L48.90,203.91 L49.08,202.70 L49.26,201.50 L49.44,200.29 L49.62,199.09 L49.81,197.89 L49.99,196.68 L50.17,195.48 L50.35,194.28 L50.53,193.08 L50.71,191.89 L50.89,190.69 L51.07,189.49 L51.25,188.30 L51.44,187.10 L51.62,185.91 L51.80,184.71 L51.99,183.52 L52.17,182.33 L52.36,181.14 L52.55,179.95 L52.73,178.76 L52.92,177.57 L53.11,176.38 L53.31,175.19 L53.50,174.00 L53.70,172.81 L53.89,171.62 L54.09,170.44 L54.29,169.25 L54.49,168.07 L54.70,166.88 L54.90,165.69 L55.11,164.51 L55.32,163.32 L55.54,162.14 L55.75,160.95 L55.97,159.77 L56.19,158.58 L56.41,157.40 L56.64,156.21 L56.87,155.03 L57.10,153.85 L57.34,152.66 L57.58,151.48 L57.82,150.29 L58.06,149.11 L58.31,147.92 L58.56,146.74 L58.82,145.55 L59.08,144.37 L59.34,143.18 L59.61,142.00 L59.88,140.81 L60.15,139.62 L60.43,138.44 L60.71,137.25 L61.00,136.06 L61.29,134.87 L61.59,133.69 L61.89,132.50 L62.19,131.31 L62.51,130.12 L62.82,128.93 L63.14,127.74 L63.47,126.56 L63.80,125.37 L64.14,124.19 L64.49,123.00 L64.84,121.82 L65.20,120.65 L65.57,119.47 L65.95,118.30 L66.33,117.13 L66.72,115.96 L67.12,114.80 L67.53,113.64 L67.95,112.49 L68.37,111.34 L68.81,110.20 L69.25,109.06 L69.71,107.92 L70.17,106.80 L70.64,105.67 L71.13,104.56 L71.63,103.45 L72.13,102.35 L72.65,101.25 L73.18,100.16 L73.72,99.08 L74.27,98.01 L74.84,96.94 L75.42,95.89 L76.01,94.84 L76.61,93.80 L77.23,92.77 L77.86,91.75 L78.50,90.74 L79.16,89.74 L79.83,88.75 L80.52,87.77 L81.22,86.80 L81.94,85.84 L82.67,84.90 L83.41,83.96 L84.18,83.04 L84.95,82.13 L85.75,81.23 L86.56,80.34 L87.39,79.47 L88.23,78.61 L89.09,77.77 L89.96,76.94 L90.85,76.12 L91.75,75.31 L92.67,74.52 L93.60,73.74 L94.54,72.98 L95.50,72.23 L96.46,71.50 L97.44,70.77 L98.44,70.07 L99.44,69.38 L100.45,68.70 L101.48,68.04 L102.51,67.40 L103.56,66.77 L104.61,66.15 L105.67,65.55 L106.74,64.97 L107.82,64.40 L108.91,63.85 L110.00,63.31 L111.10,62.80 L112.21,62.29 L113.32,61.81 L114.44,61.34 L115.57,60.89 L116.70,60.45 L117.83,60.03 L118.97,59.63 L120.12,59.24 L121.26,58.87 L122.42,58.52 L123.57,58.17 L124.74,57.85 L125.90,57.53 L127.07,57.23 L128.24,56.94 L129.42,56.67 L130.60,56.41 L131.78,56.16 L132.96,55.92 L134.15,55.69 L135.34,55.47 L136.54,55.26 L137.73,55.06 L138.93,54.87 L140.13,54.69 L141.33,54.52 L142.54,54.36 L143.75,54.20 L144.95,54.05 L146.16,53.91 L147.38,53.77 L148.59,53.64 L149.80,53.52 L151.02,53.40 L152.23,53.29 L153.45,53.18 L154.67,53.07 L155.89,52.97 L157.10,52.87 L158.32,52.78 L159.54,52.69 L160.76,52.59 L161.98,52.51 L163.19,52.42 L164.41,52.33 L165.63,52.25 L166.85,52.17 L168.07,52.09 L169.28,52.01 L170.50,51.93 L171.72,51.86 L172.93,51.78 L174.15,51.71 L175.37,51.64 L176.59,51.57 L177.80,51.51 L179.02,51.44 L180.23,51.38 L181.45,51.32 L182.67,51.26 L183.88,51.20 L185.10,51.15 L186.32,51.09 L187.53,51.04 L188.75,50.99 L189.96,50.94 L191.18,50.89 L192.39,50.84 L193.61,50.80 L194.83,50.75 L196.04,50.71 L197.26,50.67 L198.47,50.63 L199.69,50.60 L200.90,50.56 L202.12,50.53 L203.33,50.49 L204.55,50.46 L205.76,50.43 L206.97,50.40 L208.19,50.37 L209.40,50.35 L210.62,50.32 L211.83,50.30 L213.05,50.28 L214.26,50.26 L215.47,50.24 L216.69,50.22 L217.90,50.21 L219.12,50.19 L220.33,50.18 L221.54,50.16 L222.76,50.15 L223.97,50.14 L225.18,50.13 L226.40,50.13 L227.61,50.12 L228.82,50.12 L230.04,50.11 L231.25,50.11 L232.46,50.11 L233.68,50.11 L234.89,50.11 L236.10,50.11 L237.31,50.11 L238.53,50.12 L239.74,50.12 L240.95,50.13 L242.17,50.14 L243.38,50.14 L244.59,50.15 L245.80,50.16 L247.02,50.18 L248.23,50.19 L249.44,50.20 L250.65,50.22 L251.87,50.23 L253.08,50.25 L254.29,50.27 L255.50,50.29 L256.72,50.30 L257.93,50.33 L259.14,50.35 L260.35,50.37 L261.56,50.39 L262.78,50.42 L263.99,50.44 L265.20,50.47 L266.41,50.49 L267.62,50.52 L268.84,50.55 L270.05,50.58 L271.26,50.61 L272.47,50.64 L273.68,50.67 L274.89,50.70 L276.11,50.73 L277.32,50.77 L278.53,50.80 L279.74,50.84 L280.95,50.87 L282.17,50.91 L283.38,50.95 L284.59,50.99 L285.80,51.02 L287.01,51.06 L288.22,51.10 L289.44,51.14 L290.65,51.18 L291.86,51.23 L293.07,51.27 L294.28,51.31 L295.49,51.35 L296.70,51.40 L297.92,51.44 L299.13,51.49 L300.34,51.53 L301.55,51.58 L302.76,51.62 L303.97,51.67 L305.19,51.72 L306.40,51.77 L307.61,51.81 L308.82,51.86 L310.03,51.91 L311.24,51.96 L312.46,52.01 L313.67,52.06 L314.88,52.11 L316.09,52.16 L317.30,52.21 L318.51,52.27 L319.73,52.32 L320.94,52.37 L322.15,52.42 L323.36,52.48 L324.57,52.53 L325.79,52.58 L327.00,52.64 L328.21,52.69 L329.42,52.75 L330.63,52.80 L331.85,52.85 L333.06,52.91 L334.27,52.96 L335.48,53.02 L336.69,53.07 L337.91,53.13 L339.12,53.19 L340.33,53.24 L341.54,53.30 L342.76,53.35 L343.97,53.41 L345.18,53.46 L346.39,53.52 L347.61,53.58 L348.82,53.63 L350.03,53.69 L351.24,53.75 L352.46,53.80 L353.67,53.86 L354.88,53.91 L356.09,53.97 L357.31,54.03 L358.52,54.08 L359.73,54.14 L360.95,54.20 L362.16,54.25 L363.37,54.31 L364.58,54.36 L365.80,54.42 L367.01,54.47 L368.22,54.53 L369.44,54.58 L370.65,54.64 L371.87,54.69 L373.08,54.75 L374.29,54.80 L375.51,54.86 L376.72,54.91 L377.93,54.96 L379.15,55.02 L380.36,55.07 L381.58,55.12 L382.79,55.18 L384.00,55.23 L385.22,55.28 L386.43,55.33 L387.65,55.38 L388.86,55.43 L390.08,55.48 L391.29,55.53 L392.51,55.58 L393.72,55.63 L394.94,55.68 L396.15,55.73 L397.37,55.78 L398.58,55.83 L399.80,55.87 L401.01,55.92 L402.23,55.97 L403.44,56.01 L404.66,56.06 L405.87,56.10 L407.09,56.15 L408.31,56.19 L409.52,56.23 L410.74,56.28 L411.95,56.32 L413.17,56.36 L414.39,56.40 L415.60,56.44 L416.82,56.48 L418.04,56.52" fill="none" stroke="#2b45a3" stroke-width="2"/>
<text transform="translate(38.5,207.0) scale(1,1.06)" font-size="16.5" class="i">1</text>
<text transform="translate(51.7,354.0) scale(1,1.06)" font-size="16.5" class="i">2</text>
<text transform="translate(71.1,73.6) scale(1,1.06)" font-size="16.5" class="i">1′</text>
<text transform="translate(91.3,108.6) scale(1,1.06)" font-size="16.5" class="i">2′</text>
<line x1="72" y1="108.4" x2="89.2" y2="104.0" stroke="#1f1f1f" stroke-width="1"/>
<text transform="translate(161.6,317.0) scale(1,1.06)" font-size="15" class="i">1</text>
<text transform="translate(175.7,282.0) scale(1,1.06)" font-size="15" class="i">2′</text>
<text transform="translate(189.4,200.6) scale(1,1.06)" font-size="15" class="i">1′</text>
<text transform="translate(219.1,233.3) scale(1,1.06)" font-size="15" class="i">2</text>
<text transform="translate(121.1,633.8) scale(1,1.06)" font-size="16.5" class="i">1</text>
<text transform="translate(102.2,715.5) scale(1,1.06)" font-size="16.5" class="i">2</text>
<text transform="translate(128.3,958.0) scale(1,1.06)" font-size="16.5" class="i">1</text>
<text transform="translate(100.2,1106.9) scale(1,1.06)" font-size="16.5" class="i">2</text>
</svg>
</body></html>
